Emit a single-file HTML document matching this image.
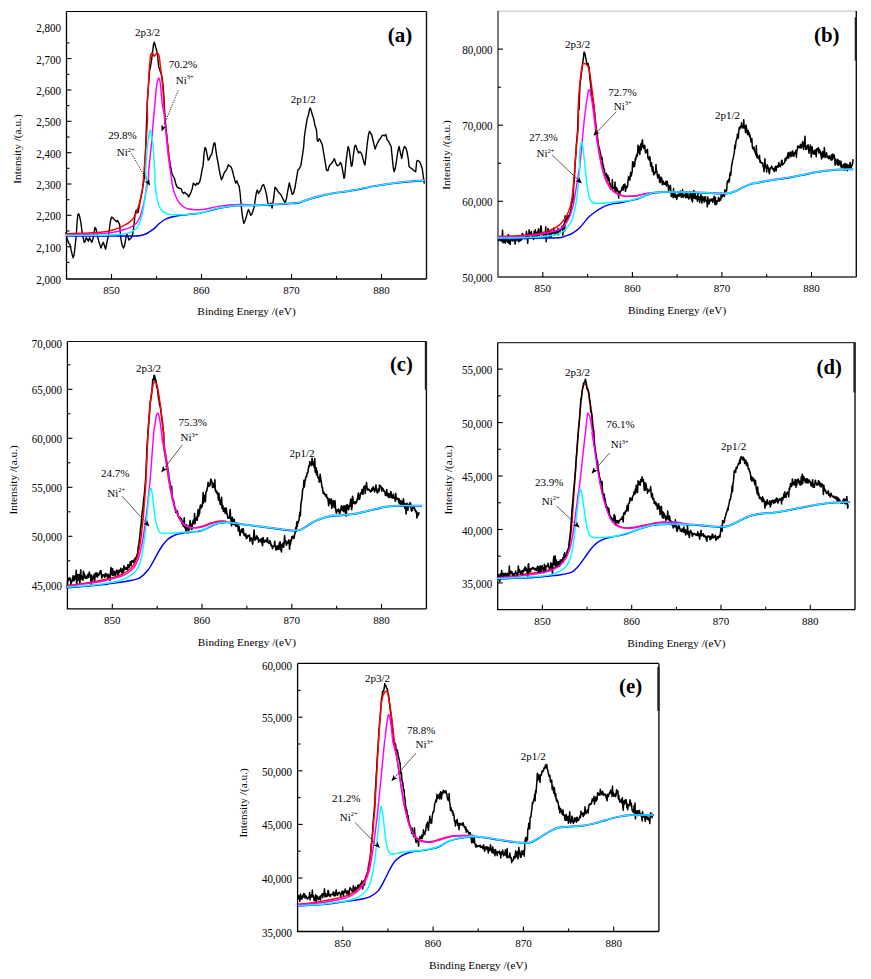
<!DOCTYPE html>
<html><head><meta charset="utf-8"><style>
html,body{margin:0;padding:0;background:#fff;}
svg{display:block;}
text{font-family:"Liberation Serif", serif;fill:#000;}
</style></head><body>
<svg width="871" height="979" viewBox="0 0 871 979">
<rect width="871" height="979" fill="#fff"/>
<path d="M66.5,11.5H426.5" stroke="#000" stroke-width="1.1" fill="none"/>
<path d="M426.5,11.5V279.0" stroke="#111" stroke-width="1.4" fill="none"/>
<path d="M66.5,11.5V279.0H426.5" stroke="#000" stroke-width="1.3" fill="none"/>
<path d="M111.5,279.0v-5" stroke="#000" stroke-width="1.1"/>
<text x="111.5" y="293.9" font-size="11" text-anchor="middle" font-weight="normal" >850</text>
<path d="M156.5,279.0v-3" stroke="#000" stroke-width="1.1"/>
<path d="M201.5,279.0v-5" stroke="#000" stroke-width="1.1"/>
<text x="201.5" y="293.9" font-size="11" text-anchor="middle" font-weight="normal" >860</text>
<path d="M246.5,279.0v-3" stroke="#000" stroke-width="1.1"/>
<path d="M291.5,279.0v-5" stroke="#000" stroke-width="1.1"/>
<text x="291.5" y="293.9" font-size="11" text-anchor="middle" font-weight="normal" >870</text>
<path d="M336.5,279.0v-3" stroke="#000" stroke-width="1.1"/>
<path d="M381.5,279.0v-5" stroke="#000" stroke-width="1.1"/>
<text x="381.5" y="293.9" font-size="11" text-anchor="middle" font-weight="normal" >880</text>
<text x="61.0" y="283.9" font-size="11.6" text-anchor="end" textLength="24.8" lengthAdjust="spacingAndGlyphs">2,000</text>
<path d="M66.5,262.4h3" stroke="#000" stroke-width="1.1"/>
<path d="M66.5,246.7h5" stroke="#000" stroke-width="1.1"/>
<text x="61.0" y="251.7" font-size="11.6" text-anchor="end" textLength="24.8" lengthAdjust="spacingAndGlyphs">2,100</text>
<path d="M66.5,231.0h3" stroke="#000" stroke-width="1.1"/>
<path d="M66.5,215.3h5" stroke="#000" stroke-width="1.1"/>
<text x="61.0" y="220.3" font-size="11.6" text-anchor="end" textLength="24.8" lengthAdjust="spacingAndGlyphs">2,200</text>
<path d="M66.5,199.7h3" stroke="#000" stroke-width="1.1"/>
<path d="M66.5,184.0h5" stroke="#000" stroke-width="1.1"/>
<text x="61.0" y="189.0" font-size="11.6" text-anchor="end" textLength="24.8" lengthAdjust="spacingAndGlyphs">2,300</text>
<path d="M66.5,168.3h3" stroke="#000" stroke-width="1.1"/>
<path d="M66.5,152.7h5" stroke="#000" stroke-width="1.1"/>
<text x="61.0" y="157.7" font-size="11.6" text-anchor="end" textLength="24.8" lengthAdjust="spacingAndGlyphs">2,400</text>
<path d="M66.5,137.0h3" stroke="#000" stroke-width="1.1"/>
<path d="M66.5,121.3h5" stroke="#000" stroke-width="1.1"/>
<text x="61.0" y="126.3" font-size="11.6" text-anchor="end" textLength="24.8" lengthAdjust="spacingAndGlyphs">2,500</text>
<path d="M66.5,105.6h3" stroke="#000" stroke-width="1.1"/>
<path d="M66.5,90.0h5" stroke="#000" stroke-width="1.1"/>
<text x="61.0" y="95.0" font-size="11.6" text-anchor="end" textLength="24.8" lengthAdjust="spacingAndGlyphs">2,600</text>
<path d="M66.5,74.3h3" stroke="#000" stroke-width="1.1"/>
<path d="M66.5,58.6h5" stroke="#000" stroke-width="1.1"/>
<text x="61.0" y="63.6" font-size="11.6" text-anchor="end" textLength="24.8" lengthAdjust="spacingAndGlyphs">2,700</text>
<path d="M66.5,42.9h3" stroke="#000" stroke-width="1.1"/>
<text x="61.0" y="32.2" font-size="11.6" text-anchor="end" textLength="24.8" lengthAdjust="spacingAndGlyphs">2,800</text>
<text x="246.5" y="315.3" font-size="11.3" text-anchor="middle" font-weight="normal" >Binding Energy /(eV)</text>
<text transform="translate(21.2,149.0) rotate(-90)" font-size="11.3" text-anchor="middle">Intensity /(a.u.)</text>
<text x="387.7" y="42.0" font-size="21.5" font-weight="bold" textLength="24.6" lengthAdjust="spacingAndGlyphs">(a)</text>
<path d="M498.0,11.1H856.3" stroke="#c8c8c8" stroke-width="1.1" fill="none"/>
<path d="M856.3,11.1V277.0" stroke="#111" stroke-width="1.4" fill="none"/>
<rect x="854.7" y="17.2" width="2.2" height="43.4" fill="#222"/>
<path d="M498.0,11.1V277.0H856.3" stroke="#333" stroke-width="1.3" fill="none"/>
<path d="M542.8,277.0v-5" stroke="#000" stroke-width="1.1"/>
<text x="542.8" y="292.2" font-size="11" text-anchor="middle" font-weight="normal" >850</text>
<path d="M587.6,277.0v-3" stroke="#000" stroke-width="1.1"/>
<path d="M632.4,277.0v-5" stroke="#000" stroke-width="1.1"/>
<text x="632.4" y="292.2" font-size="11" text-anchor="middle" font-weight="normal" >860</text>
<path d="M677.1,277.0v-3" stroke="#000" stroke-width="1.1"/>
<path d="M721.9,277.0v-5" stroke="#000" stroke-width="1.1"/>
<text x="721.9" y="292.2" font-size="11" text-anchor="middle" font-weight="normal" >870</text>
<path d="M766.7,277.0v-3" stroke="#000" stroke-width="1.1"/>
<path d="M811.5,277.0v-5" stroke="#000" stroke-width="1.1"/>
<text x="811.5" y="292.2" font-size="11" text-anchor="middle" font-weight="normal" >880</text>
<text x="492.5" y="282.4" font-size="11.6" text-anchor="end" textLength="30.2" lengthAdjust="spacingAndGlyphs">50,000</text>
<path d="M498.0,239.4h3" stroke="#000" stroke-width="1.1"/>
<path d="M498.0,201.3h5" stroke="#000" stroke-width="1.1"/>
<text x="492.5" y="206.3" font-size="11.6" text-anchor="end" textLength="30.2" lengthAdjust="spacingAndGlyphs">60,000</text>
<path d="M498.0,163.3h3" stroke="#000" stroke-width="1.1"/>
<path d="M498.0,125.2h5" stroke="#000" stroke-width="1.1"/>
<text x="492.5" y="130.2" font-size="11.6" text-anchor="end" textLength="30.2" lengthAdjust="spacingAndGlyphs">70,000</text>
<path d="M498.0,87.2h3" stroke="#000" stroke-width="1.1"/>
<path d="M498.0,49.1h5" stroke="#000" stroke-width="1.1"/>
<text x="492.5" y="54.1" font-size="11.6" text-anchor="end" textLength="30.2" lengthAdjust="spacingAndGlyphs">80,000</text>
<text x="677.1" y="313.7" font-size="11.3" text-anchor="middle" font-weight="normal" >Binding Energy /(eV)</text>
<text transform="translate(450.4,155.0) rotate(-90)" font-size="11.3" text-anchor="middle">Intensity /(a.u.)</text>
<text x="814.0" y="41.6" font-size="21.5" font-weight="bold" textLength="25.6" lengthAdjust="spacingAndGlyphs">(b)</text>
<path d="M67.4,341.5H426.4" stroke="#111" stroke-width="1.1" fill="none"/>
<path d="M426.4,341.5V608.8" stroke="#111" stroke-width="1.4" fill="none"/>
<rect x="424.8" y="341.5" width="2.2" height="48.2" fill="#222"/>
<path d="M67.4,341.5V608.8H426.4" stroke="#000" stroke-width="1.3" fill="none"/>
<path d="M112.3,608.8v-5" stroke="#000" stroke-width="1.1"/>
<text x="112.3" y="623.8" font-size="11" text-anchor="middle" font-weight="normal" >850</text>
<path d="M157.2,608.8v-3" stroke="#000" stroke-width="1.1"/>
<path d="M202.0,608.8v-5" stroke="#000" stroke-width="1.1"/>
<text x="202.0" y="623.8" font-size="11" text-anchor="middle" font-weight="normal" >860</text>
<path d="M246.9,608.8v-3" stroke="#000" stroke-width="1.1"/>
<path d="M291.8,608.8v-5" stroke="#000" stroke-width="1.1"/>
<text x="291.8" y="623.8" font-size="11" text-anchor="middle" font-weight="normal" >870</text>
<path d="M336.6,608.8v-3" stroke="#000" stroke-width="1.1"/>
<path d="M381.5,608.8v-5" stroke="#000" stroke-width="1.1"/>
<text x="381.5" y="623.8" font-size="11" text-anchor="middle" font-weight="normal" >880</text>
<path d="M67.4,585.3h5" stroke="#000" stroke-width="1.1"/>
<text x="61.9" y="590.3" font-size="11.6" text-anchor="end" textLength="30.2" lengthAdjust="spacingAndGlyphs">45,000</text>
<path d="M67.4,560.8h3" stroke="#000" stroke-width="1.1"/>
<path d="M67.4,536.3h5" stroke="#000" stroke-width="1.1"/>
<text x="61.9" y="541.3" font-size="11.6" text-anchor="end" textLength="30.2" lengthAdjust="spacingAndGlyphs">50,000</text>
<path d="M67.4,511.8h3" stroke="#000" stroke-width="1.1"/>
<path d="M67.4,487.3h5" stroke="#000" stroke-width="1.1"/>
<text x="61.9" y="492.3" font-size="11.6" text-anchor="end" textLength="30.2" lengthAdjust="spacingAndGlyphs">55,000</text>
<path d="M67.4,462.8h3" stroke="#000" stroke-width="1.1"/>
<path d="M67.4,438.3h5" stroke="#000" stroke-width="1.1"/>
<text x="61.9" y="443.3" font-size="11.6" text-anchor="end" textLength="30.2" lengthAdjust="spacingAndGlyphs">60,000</text>
<path d="M67.4,413.8h3" stroke="#000" stroke-width="1.1"/>
<path d="M67.4,389.3h5" stroke="#000" stroke-width="1.1"/>
<text x="61.9" y="394.3" font-size="11.6" text-anchor="end" textLength="30.2" lengthAdjust="spacingAndGlyphs">65,000</text>
<path d="M67.4,364.8h3" stroke="#000" stroke-width="1.1"/>
<text x="61.9" y="348.0" font-size="11.6" text-anchor="end" textLength="30.2" lengthAdjust="spacingAndGlyphs">70,000</text>
<text x="246.9" y="645.7" font-size="11.3" text-anchor="middle" font-weight="normal" >Binding Energy /(eV)</text>
<text transform="translate(16.6,479.8) rotate(-90)" font-size="11.3" text-anchor="middle">Intensity /(a.u.)</text>
<text x="390.0" y="370.5" font-size="21.5" font-weight="bold" textLength="22.9" lengthAdjust="spacingAndGlyphs">(c)</text>
<path d="M497.7,342.6H855.0" stroke="#333" stroke-width="1.1" fill="none"/>
<path d="M855.0,342.6V609.7" stroke="#111" stroke-width="1.4" fill="none"/>
<rect x="853.4" y="342.5" width="2.2" height="50.0" fill="#222"/>
<path d="M497.7,342.6V609.7H855.0" stroke="#000" stroke-width="1.3" fill="none"/>
<path d="M542.4,609.7v-5" stroke="#000" stroke-width="1.1"/>
<text x="542.4" y="625.3" font-size="11" text-anchor="middle" font-weight="normal" >850</text>
<path d="M587.0,609.7v-3" stroke="#000" stroke-width="1.1"/>
<path d="M631.7,609.7v-5" stroke="#000" stroke-width="1.1"/>
<text x="631.7" y="625.3" font-size="11" text-anchor="middle" font-weight="normal" >860</text>
<path d="M676.4,609.7v-3" stroke="#000" stroke-width="1.1"/>
<path d="M721.0,609.7v-5" stroke="#000" stroke-width="1.1"/>
<text x="721.0" y="625.3" font-size="11" text-anchor="middle" font-weight="normal" >870</text>
<path d="M765.7,609.7v-3" stroke="#000" stroke-width="1.1"/>
<path d="M810.3,609.7v-5" stroke="#000" stroke-width="1.1"/>
<text x="810.3" y="625.3" font-size="11" text-anchor="middle" font-weight="normal" >880</text>
<path d="M497.7,582.9h5" stroke="#000" stroke-width="1.1"/>
<text x="492.2" y="587.9" font-size="11.6" text-anchor="end" textLength="30.2" lengthAdjust="spacingAndGlyphs">35,000</text>
<path d="M497.7,556.2h3" stroke="#000" stroke-width="1.1"/>
<path d="M497.7,529.5h5" stroke="#000" stroke-width="1.1"/>
<text x="492.2" y="534.5" font-size="11.6" text-anchor="end" textLength="30.2" lengthAdjust="spacingAndGlyphs">40,000</text>
<path d="M497.7,502.7h3" stroke="#000" stroke-width="1.1"/>
<path d="M497.7,476.0h5" stroke="#000" stroke-width="1.1"/>
<text x="492.2" y="481.0" font-size="11.6" text-anchor="end" textLength="30.2" lengthAdjust="spacingAndGlyphs">45,000</text>
<path d="M497.7,449.3h3" stroke="#000" stroke-width="1.1"/>
<path d="M497.7,422.6h5" stroke="#000" stroke-width="1.1"/>
<text x="492.2" y="427.6" font-size="11.6" text-anchor="end" textLength="30.2" lengthAdjust="spacingAndGlyphs">50,000</text>
<path d="M497.7,395.8h3" stroke="#000" stroke-width="1.1"/>
<path d="M497.7,369.1h5" stroke="#000" stroke-width="1.1"/>
<text x="492.2" y="374.1" font-size="11.6" text-anchor="end" textLength="30.2" lengthAdjust="spacingAndGlyphs">55,000</text>
<text x="676.4" y="647.2" font-size="11.3" text-anchor="middle" font-weight="normal" >Binding Energy /(eV)</text>
<text transform="translate(451.6,479.8) rotate(-90)" font-size="11.3" text-anchor="middle">Intensity /(a.u.)</text>
<text x="816.6" y="374.0" font-size="21.5" font-weight="bold" textLength="25.3" lengthAdjust="spacingAndGlyphs">(d)</text>
<path d="M297.6,663.4H658.9" stroke="#000" stroke-width="1.1" fill="none"/>
<path d="M658.9,663.4V931.5" stroke="#111" stroke-width="1.4" fill="none"/>
<rect x="657.3" y="667.0" width="2.2" height="43.8" fill="#222"/>
<path d="M297.6,663.4V931.5H658.9" stroke="#000" stroke-width="1.3" fill="none"/>
<path d="M342.8,931.5v-5" stroke="#000" stroke-width="1.1"/>
<text x="342.8" y="947.3" font-size="11" text-anchor="middle" font-weight="normal" >850</text>
<path d="M387.9,931.5v-3" stroke="#000" stroke-width="1.1"/>
<path d="M433.1,931.5v-5" stroke="#000" stroke-width="1.1"/>
<text x="433.1" y="947.3" font-size="11" text-anchor="middle" font-weight="normal" >860</text>
<path d="M478.2,931.5v-3" stroke="#000" stroke-width="1.1"/>
<path d="M523.4,931.5v-5" stroke="#000" stroke-width="1.1"/>
<text x="523.4" y="947.3" font-size="11" text-anchor="middle" font-weight="normal" >870</text>
<path d="M568.6,931.5v-3" stroke="#000" stroke-width="1.1"/>
<path d="M613.7,931.5v-5" stroke="#000" stroke-width="1.1"/>
<text x="613.7" y="947.3" font-size="11" text-anchor="middle" font-weight="normal" >880</text>
<text x="292.1" y="936.6" font-size="11.6" text-anchor="end" textLength="30.2" lengthAdjust="spacingAndGlyphs">35,000</text>
<path d="M297.6,904.8h3" stroke="#000" stroke-width="1.1"/>
<path d="M297.6,878.0h5" stroke="#000" stroke-width="1.1"/>
<text x="292.1" y="883.0" font-size="11.6" text-anchor="end" textLength="30.2" lengthAdjust="spacingAndGlyphs">40,000</text>
<path d="M297.6,851.2h3" stroke="#000" stroke-width="1.1"/>
<path d="M297.6,824.4h5" stroke="#000" stroke-width="1.1"/>
<text x="292.1" y="829.4" font-size="11.6" text-anchor="end" textLength="30.2" lengthAdjust="spacingAndGlyphs">45,000</text>
<path d="M297.6,797.6h3" stroke="#000" stroke-width="1.1"/>
<path d="M297.6,770.8h5" stroke="#000" stroke-width="1.1"/>
<text x="292.1" y="775.8" font-size="11.6" text-anchor="end" textLength="30.2" lengthAdjust="spacingAndGlyphs">50,000</text>
<path d="M297.6,744.0h3" stroke="#000" stroke-width="1.1"/>
<path d="M297.6,717.2h5" stroke="#000" stroke-width="1.1"/>
<text x="292.1" y="722.2" font-size="11.6" text-anchor="end" textLength="30.2" lengthAdjust="spacingAndGlyphs">55,000</text>
<path d="M297.6,690.4h3" stroke="#000" stroke-width="1.1"/>
<text x="292.1" y="669.5" font-size="11.6" text-anchor="end" textLength="30.2" lengthAdjust="spacingAndGlyphs">60,000</text>
<text x="478.2" y="968.7" font-size="11.3" text-anchor="middle" font-weight="normal" >Binding Energy /(eV)</text>
<text transform="translate(247.2,802.9) rotate(-90)" font-size="11.3" text-anchor="middle">Intensity /(a.u.)</text>
<text x="619.1" y="692.5" font-size="21.5" font-weight="bold" textLength="23.2" lengthAdjust="spacingAndGlyphs">(e)</text>
<path d="M66.00,232.00L67.15,238.89L68.87,243.48L70.02,244.63L71.17,250.37L72.31,254.96L73.12,257.83L74.04,254.96L75.18,245.77L76.33,234.29L77.14,221.66L77.83,214.78L78.63,213.63L79.78,217.07L80.93,222.81L82.07,232.00L83.22,237.74L84.14,242.33L85.29,241.18L86.09,237.74L87.24,238.89L88.39,241.18L89.54,237.74L90.68,240.03L91.83,242.33L92.98,238.89L94.13,232.00L94.93,227.41L95.85,228.55L96.77,232.00L97.57,236.59L98.72,241.18L99.87,244.63L101.02,248.07L102.17,244.63L103.31,242.33L104.46,245.77L105.61,249.22L106.76,243.48L107.91,237.74L109.05,232.00L109.86,225.11L110.78,219.37L111.69,217.07L113.07,218.22L114.22,219.37L115.37,220.52L116.52,221.66L117.66,220.52L118.81,222.81L119.73,225.11L120.19,232.00L120.88,238.89L122.03,244.63L123.41,248.07L124.55,245.77L125.70,238.89L126.85,234.29L128.00,236.59L128.92,240.03L130.06,238.89L131.44,237.74L132.59,234.29L133.74,227.41L134.66,218.22L135.46,212.48L136.26,210.18L137.18,212.48L138.10,212.48L138.90,207.89L140.05,202.15L141.20,196.41L142.35,189.52L143.50,182.63L144.65,175.74L147.23,103.54L148.04,91.29L148.86,80.66L149.51,70.86L150.33,67.59L151.15,62.69L151.97,56.97L152.78,50.43L153.60,43.89L154.25,42.26L155.07,44.71L155.89,47.98L156.71,50.43L157.52,54.51L158.09,61.05L158.67,66.77L159.73,70.04L160.96,73.31L162.18,77.40L163.00,85.57L163.82,95.37L164.99,118.39L166.37,132.18L167.75,145.97L169.13,159.75L170.51,166.19L171.88,173.54L173.26,176.30L174.64,179.06L176.02,184.58L177.40,187.33L179.24,188.25L181.24,188.89L182.39,192.33L183.54,193.48L184.68,192.33L185.83,193.48L187.55,194.63L188.70,196.92L189.85,194.63L191.00,192.33L192.15,188.89L193.30,183.15L194.44,184.29L195.59,185.44L196.74,183.15L197.89,184.29L199.61,182.00L200.76,177.41L201.91,170.52L203.05,165.92L204.20,152.15L205.01,147.55L205.92,148.70L207.07,154.44L208.22,160.18L209.37,159.04L210.52,155.59L211.66,154.44L212.81,148.70L213.96,142.96L214.88,142.96L215.68,148.70L216.83,156.74L217.98,162.48L219.13,169.37L220.28,175.11L221.42,179.70L222.57,177.41L223.72,173.96L224.87,171.66L226.02,170.52L227.16,168.22L228.31,164.78L229.46,165.92L231.18,167.07L232.33,170.52L233.48,175.11L234.63,179.70L235.77,183.15L236.92,180.85L238.07,184.29L239.22,186.59L240.14,193.48L240.94,202.66L241.75,210.70L242.66,217.59L243.81,223.33L244.96,221.03L246.11,217.59L247.26,213.00L248.40,209.55L249.55,211.85L250.70,215.29L251.85,214.14L253.00,210.70L254.14,207.26L255.29,199.22L256.44,192.33L257.36,190.03L258.51,193.48L260.72,190.10L262.15,185.81L263.58,184.38L265.01,188.67L266.44,194.39L267.87,202.97L269.30,205.83L270.73,202.97L272.16,207.98L273.59,198.68L275.02,187.24L276.45,188.67L277.88,191.53L279.31,192.96L280.74,194.39L282.17,197.25L283.60,200.11L285.03,202.97L286.46,198.68L287.89,190.10L289.32,182.95L290.75,188.67L292.18,194.39L293.61,192.96L295.04,187.24L296.47,178.66L297.90,170.08L299.33,168.65L300.76,165.79L302.19,157.21L303.62,147.20L304.34,137.19L305.77,127.18L307.20,118.60L308.63,114.31L309.34,110.02L310.06,107.88L311.06,110.02L312.20,114.31L313.63,118.60L315.06,125.75L316.49,130.04L317.21,140.05L317.92,141.48L319.35,138.62L320.78,141.48L322.21,144.34L323.64,152.92L325.07,161.50L326.50,170.08L327.93,170.80L329.36,165.79L330.79,164.36L332.94,161.50L334.37,158.64L335.80,162.93L337.23,165.79L338.66,165.08L340.09,163.65L340.00,162.41L341.33,163.74L342.66,170.38L343.98,178.35L344.65,177.02L345.98,162.41L347.30,151.79L348.23,146.48L349.30,150.46L350.36,158.43L351.29,166.39L352.22,165.07L353.28,155.77L354.61,146.48L355.67,145.15L357.00,149.13L358.59,153.12L359.92,151.79L361.25,153.12L362.57,157.10L363.90,162.41L364.96,165.07L365.89,157.10L367.22,143.82L368.55,134.53L369.48,131.21L370.54,133.20L371.60,134.53L372.53,138.51L373.86,143.82L375.19,149.13L376.52,145.15L377.84,142.49L379.17,139.84L380.50,138.51L381.83,135.85L383.16,135.19L384.48,135.85L385.81,134.53L387.14,139.84L388.47,141.16L389.80,143.82L391.12,146.48L392.05,155.77L393.12,166.39L394.04,171.71L395.11,169.05L396.44,161.08L397.76,151.79L399.09,146.48L400.42,153.12L401.75,158.43L403.07,150.46L404.40,146.48L405.73,147.80L407.06,151.79L408.39,159.75L409.05,166.39L410.38,167.72L412.37,169.05L414.36,171.04L415.69,171.71L416.75,161.08L418.08,160.42L419.67,161.75L421.00,165.07L422.33,169.05L423.39,177.02L424.32,183.66" stroke="#000" stroke-width="1.4" fill="none" stroke-linejoin="round"/>
<path d="M66.00,233.72C67.91,233.66 73.65,233.51 77.48,233.38C81.31,233.24 85.14,233.11 88.96,232.92C92.79,232.72 97.00,232.57 100.44,232.23C103.89,231.88 107.14,231.37 109.63,230.85C112.12,230.33 113.46,229.80 115.37,229.13C117.28,228.46 119.20,227.69 121.11,226.83C123.02,225.97 125.13,225.01 126.85,223.96C128.57,222.91 130.10,221.86 131.44,220.52C132.78,219.18 133.93,217.65 134.89,215.92C135.84,214.20 136.42,212.29 137.18,210.18C137.95,208.08 138.81,205.78 139.48,203.30C140.15,200.81 140.67,197.94 141.20,195.26C141.74,192.58 141.96,194.76 142.69,187.22C143.43,179.68 144.95,158.70 145.60,150.00C146.25,141.30 146.28,140.33 146.60,135.00C146.92,129.67 147.40,123.24 147.50,118.00C147.60,112.76 147.16,107.32 147.23,103.54C147.29,99.77 147.64,99.46 147.88,95.37C148.13,91.29 148.43,83.80 148.70,79.03C148.97,74.26 149.24,70.45 149.51,66.77C149.79,63.09 150.06,59.15 150.33,56.97C150.60,54.79 150.81,54.31 151.15,53.70C151.49,53.08 151.97,53.02 152.37,53.29C152.78,53.56 153.26,54.86 153.60,55.33C153.94,55.81 154.08,56.29 154.42,56.15C154.76,56.01 155.23,54.99 155.64,54.51C156.05,54.04 156.46,53.43 156.87,53.29C157.28,53.15 157.69,53.08 158.09,53.70C158.50,54.31 158.98,55.20 159.32,56.97C159.66,58.74 159.87,62.01 160.14,64.32C160.41,66.64 160.68,68.68 160.96,70.86C161.23,73.04 161.50,74.94 161.77,77.40C162.04,79.85 162.32,82.57 162.59,85.57C162.86,88.56 163.16,91.97 163.41,95.37C163.65,98.78 163.87,102.93 164.06,106.00C164.25,109.07 164.22,110.19 164.53,113.79C164.84,117.39 165.45,122.98 165.91,127.58C166.37,132.18 166.78,136.77 167.29,141.37C167.79,145.97 168.41,151.02 168.94,155.16C169.48,159.30 170.25,164.35 170.51,166.19" stroke="#f00" stroke-width="1.45" fill="none"/>
<path d="M66.00,234.87C69.83,234.77 82.26,234.58 88.96,234.29C95.66,234.01 101.40,233.62 106.18,233.15C110.97,232.67 114.41,232.09 117.66,231.42C120.92,230.75 123.41,229.89 125.70,229.13C128.00,228.36 129.72,227.79 131.44,226.83C133.16,225.87 134.69,224.82 136.03,223.39C137.37,221.95 138.52,220.23 139.48,218.22C140.44,216.21 141.01,214.01 141.77,211.33C142.54,208.65 143.40,205.21 144.07,202.15C144.74,199.09 145.26,196.02 145.79,192.96C146.33,189.90 146.81,186.65 147.29,183.78C147.76,180.91 148.47,177.45 148.66,175.74C148.86,174.04 148.25,176.21 148.44,173.54C148.64,170.88 149.28,165.12 149.82,159.75C150.36,154.39 151.05,148.26 151.66,141.37C152.27,134.47 152.89,125.28 153.50,118.39C154.11,111.49 155.05,103.15 155.34,100.00C155.63,96.85 155.05,101.59 155.23,99.46C155.42,97.33 156.05,90.33 156.46,87.20C156.87,84.07 157.35,82.16 157.69,80.66C158.03,79.17 158.23,78.48 158.50,78.21C158.78,77.94 159.02,78.21 159.32,79.03C159.62,79.85 160.00,80.94 160.30,83.12C160.60,85.29 160.81,88.70 161.12,92.10C161.43,95.51 161.69,99.93 162.18,103.54C162.67,107.16 163.53,109.78 164.07,113.79C164.62,117.80 164.99,122.98 165.45,127.58C165.91,132.18 166.37,136.77 166.83,141.37C167.29,145.97 167.67,150.56 168.21,155.16C168.74,159.75 169.43,164.66 170.05,168.95C170.66,173.24 171.65,179.11 171.88,180.90C172.12,182.69 171.26,178.37 171.48,179.70C171.70,181.03 172.53,186.21 173.20,188.89C173.87,191.57 174.64,193.67 175.50,195.77C176.36,197.88 177.32,199.89 178.37,201.52C179.42,203.14 180.47,204.39 181.81,205.53C183.15,206.68 184.68,207.73 186.41,208.40C188.13,209.07 190.04,209.32 192.15,209.55C194.25,209.78 196.74,209.88 199.04,209.78C201.33,209.69 203.63,209.36 205.92,208.98C208.22,208.60 210.52,207.96 212.81,207.49C215.11,207.01 217.41,206.49 219.70,206.11C222.00,205.73 224.29,205.42 226.59,205.19C228.89,204.96 231.18,204.86 233.48,204.73C235.77,204.60 238.65,204.44 240.37,204.39C242.09,204.33 241.21,204.28 243.81,204.39C246.42,204.50 251.52,205.06 256.00,205.05C260.48,205.04 266.20,204.58 270.70,204.35C275.20,204.12 279.57,203.87 283.00,203.65C286.43,203.43 288.53,203.30 291.30,203.05C294.07,202.80 296.83,202.78 299.60,202.15C302.37,201.52 304.80,200.25 307.90,199.25C311.00,198.25 314.07,197.18 318.20,196.15C322.33,195.12 326.85,194.08 332.70,193.05C338.55,192.02 346.42,191.15 353.30,189.95C360.18,188.75 367.10,187.05 374.00,185.85C380.90,184.65 387.82,183.62 394.70,182.75C401.58,181.88 410.33,181.07 415.30,180.65C420.27,180.23 422.97,180.32 424.50,180.25" stroke="#f0f" stroke-width="1.45" fill="none"/>
<path d="M66.00,236.02C71.74,236.02 90.88,236.02 100.44,236.02C110.01,236.02 117.66,236.02 123.41,236.02C129.15,236.02 132.02,236.11 134.89,236.02C137.76,235.92 138.71,235.82 140.63,235.44C142.54,235.06 144.65,234.49 146.37,233.72C148.09,232.95 149.43,231.90 150.96,230.85C152.49,229.80 154.33,228.48 155.55,227.41C156.78,226.33 156.48,225.87 158.30,224.40C160.12,222.93 163.30,220.03 166.50,218.60C169.70,217.17 173.58,216.52 177.50,215.80C181.42,215.08 186.25,214.73 190.00,214.30C193.75,213.87 196.96,213.75 200.00,213.20C203.04,212.65 205.32,211.75 208.22,211.00C211.12,210.25 214.34,209.37 217.41,208.70C220.47,208.03 223.53,207.46 226.59,206.98C229.65,206.50 232.71,206.08 235.77,205.83C238.84,205.59 241.59,205.53 244.96,205.49C248.33,205.45 251.71,205.70 256.00,205.60C260.29,205.50 266.20,205.13 270.70,204.90C275.20,204.67 279.57,204.42 283.00,204.20C286.43,203.98 288.53,203.85 291.30,203.60C294.07,203.35 296.83,203.33 299.60,202.70C302.37,202.07 304.80,200.80 307.90,199.80C311.00,198.80 314.07,197.73 318.20,196.70C322.33,195.67 326.85,194.63 332.70,193.60C338.55,192.57 346.42,191.70 353.30,190.50C360.18,189.30 367.10,187.60 374.00,186.40C380.90,185.20 387.82,184.17 394.70,183.30C401.58,182.43 410.33,181.62 415.30,181.20C420.27,180.78 422.97,180.87 424.50,180.80" stroke="#00f" stroke-width="1.45" fill="none"/>
<path d="M66.00,235.44C71.74,235.40 91.83,235.37 100.44,235.21C109.05,235.06 113.26,234.83 117.66,234.52C122.07,234.22 124.36,233.89 126.85,233.38C129.34,232.86 130.87,232.42 132.59,231.42C134.31,230.43 135.94,229.03 137.18,227.41C138.43,225.78 139.19,223.96 140.05,221.66C140.91,219.37 141.68,216.50 142.35,213.63C143.02,210.76 143.59,207.31 144.07,204.44C144.55,201.57 144.87,199.28 145.22,196.41C145.56,193.54 145.85,190.28 146.14,187.22C146.42,184.16 147.02,180.32 146.94,178.04C146.87,175.76 145.74,177.36 145.68,173.54C145.63,169.73 146.22,160.52 146.60,155.16C146.99,149.80 147.57,144.89 147.98,141.37C148.40,137.84 148.70,135.85 149.09,134.01C149.47,132.18 149.85,129.88 150.28,130.34C150.71,130.80 151.20,134.17 151.66,136.77C152.12,139.38 152.66,142.13 153.04,145.97C153.42,149.80 153.65,155.16 153.96,159.75C154.26,164.35 154.71,169.92 154.88,173.54C155.05,177.17 154.77,178.24 154.98,181.48C155.19,184.72 155.65,189.52 156.13,192.96C156.60,196.41 157.18,199.66 157.85,202.15C158.52,204.63 159.28,206.26 160.14,207.89C161.01,209.51 162.46,211.25 163.01,211.91C163.56,212.57 162.61,211.48 163.44,211.85C164.28,212.22 166.31,213.67 168.04,214.14C169.76,214.62 171.29,214.62 173.78,214.72C176.26,214.81 179.90,214.81 182.96,214.72C186.02,214.62 189.28,214.43 192.15,214.14C195.02,213.86 197.50,213.57 200.18,213.00C202.86,212.42 205.35,211.47 208.22,210.70C211.09,209.93 214.34,209.07 217.41,208.40C220.47,207.73 223.53,207.16 226.59,206.68C229.65,206.20 232.71,205.78 235.77,205.53C238.84,205.29 241.59,205.23 244.96,205.19C248.33,205.15 251.71,205.40 256.00,205.30C260.29,205.20 266.20,204.83 270.70,204.60C275.20,204.37 279.57,204.12 283.00,203.90C286.43,203.68 288.53,203.55 291.30,203.30C294.07,203.05 296.83,203.03 299.60,202.40C302.37,201.77 304.80,200.50 307.90,199.50C311.00,198.50 314.07,197.43 318.20,196.40C322.33,195.37 326.85,194.33 332.70,193.30C338.55,192.27 346.42,191.40 353.30,190.20C360.18,189.00 367.10,187.30 374.00,186.10C380.90,184.90 387.82,183.87 394.70,183.00C401.58,182.13 410.33,181.32 415.30,180.90C420.27,180.48 422.97,180.57 424.50,180.50" stroke="#0ff" stroke-width="1.45" fill="none"/>
<text x="135.0" y="36.0" font-size="11" text-anchor="start" font-weight="normal" >2p3/2</text>
<text x="168.7" y="67.8" font-size="11" text-anchor="start" font-weight="normal" >70.2%</text>
<text x="108.2" y="139.3" font-size="11" text-anchor="start" font-weight="normal" >29.8%</text>
<text x="290.8" y="102.9" font-size="11" text-anchor="start" font-weight="normal" >2p1/2</text>
<text x="175.8" y="83.7" font-size="11">Ni<tspan font-size="6.5" dy="-4.5">3+</tspan></text>
<text x="116.8" y="156.1" font-size="11">Ni<tspan font-size="6.5" dy="-4.5">2+</tspan></text>
<path d="M178.1,90.5L163.9,125.5" stroke="#000" stroke-width="0.9" stroke-dasharray="1.2 1.3" fill="none"/>
<path d="M161.5,131.5L161.5,124.5L163.4,126.9L166.3,126.5Z" fill="#000"/>
<path d="M131.5,153.6L146.8,180.2" stroke="#000" stroke-width="0.9" stroke-dasharray="1.2 1.3" fill="none"/>
<path d="M150.1,185.8L144.6,181.5L147.6,181.5L149.1,178.9Z" fill="#000"/>
<path d="M498.50,241.32L498.95,237.06L499.40,240.02L499.85,239.62L500.30,239.42L500.75,240.42L501.20,241.11L501.65,241.04L502.10,238.57L502.55,230.33L503.00,242.67L503.45,242.30L503.90,240.20L504.35,239.51L504.80,237.23L505.25,243.29L505.70,237.13L506.15,236.95L506.60,240.62L507.05,241.25L507.50,242.27L507.95,235.42L508.40,234.45L508.85,243.46L509.30,240.35L509.75,240.01L510.20,244.43L510.65,239.37L511.10,239.95L511.55,238.10L512.00,238.93L512.45,240.87L512.90,240.42L513.35,237.71L513.80,239.65L514.25,241.05L514.70,239.56L515.15,244.10L515.60,236.41L516.05,238.69L516.50,240.32L516.95,239.80L517.40,237.90L517.85,235.54L518.30,241.22L518.75,241.76L519.20,239.86L519.65,237.85L520.10,240.72L520.55,238.86L521.00,240.28L521.45,238.59L521.90,239.38L522.35,233.57L522.80,233.83L523.25,236.57L523.70,237.40L524.15,237.52L524.60,238.19L525.05,238.88L525.50,236.08L525.95,237.42L526.40,231.60L526.85,234.79L527.30,239.02L527.75,243.32L528.20,233.97L528.65,237.28L529.10,229.86L529.55,234.83L530.00,235.87L530.45,233.04L530.90,233.02L531.35,231.48L531.80,235.84L532.25,237.35L532.70,237.38L533.15,235.09L533.60,239.43L534.05,231.16L534.50,235.19L534.95,236.69L535.40,229.71L535.85,233.78L536.30,232.61L536.75,236.93L537.20,232.29L537.65,235.65L538.10,231.24L538.55,228.72L539.00,233.25L539.45,235.75L539.90,232.89L540.35,231.56L540.80,225.83L541.25,227.04L541.70,234.66L542.15,233.10L542.60,234.63L543.05,232.37L543.50,234.67L543.95,235.67L544.40,233.39L544.85,234.42L545.30,234.61L545.75,226.77L546.20,241.77L546.65,234.78L547.10,231.83L547.55,233.54L548.00,228.57L548.45,233.14L548.90,233.52L549.35,237.68L549.80,230.88L550.25,235.01L550.70,236.30L551.15,237.25L551.60,231.09L552.05,232.68L552.50,233.19L552.95,232.04L553.40,230.93L553.85,228.08L554.30,235.05L554.75,233.01L555.20,234.53L555.65,231.98L556.10,231.21L556.55,233.31L557.00,234.41L557.45,233.44L557.90,228.33L558.35,234.87L558.80,232.21L559.25,230.76L559.70,230.56L560.15,230.94L560.60,229.75L561.05,228.50L561.50,228.97L561.95,226.14L562.40,227.46L562.85,235.15L563.30,225.66L563.75,224.94L564.20,223.35L564.65,231.04L565.10,215.86L565.55,218.65L566.00,221.18L566.45,218.72L566.90,215.65L567.35,218.48L567.80,219.08L568.25,216.44L568.70,215.63L569.15,216.48L569.60,215.48L570.05,213.15L570.50,212.22L570.95,209.79L571.40,204.68L571.85,202.41L572.30,198.58L572.75,202.55L573.20,194.89L573.65,186.57L574.10,181.84L574.55,175.40L575.00,165.60L575.45,159.30L575.90,154.06L576.35,144.95L576.80,139.26L577.25,134.72L577.70,129.62L578.15,114.99L578.60,106.41L579.05,109.85L579.50,95.86L579.95,85.41L580.40,80.97L580.85,78.65L581.30,73.17L581.75,71.52L582.20,66.75L582.65,63.20L583.10,59.99L583.55,56.89L584.00,52.24L584.45,52.20L584.90,53.59L585.35,55.39L585.80,58.62L586.25,59.74L586.70,64.17L587.15,64.91L587.60,64.18L588.05,63.33L588.50,65.92L588.95,67.20L589.40,71.25L589.85,78.14L590.30,81.57L590.75,84.66L591.20,89.63L591.65,97.05L592.10,98.19L592.55,99.46L593.00,101.64L593.45,104.69L593.90,107.85L594.35,112.34L594.80,114.71L595.25,119.34L595.70,123.66L596.15,126.60L596.60,130.47L597.05,132.47L597.50,137.82L597.95,140.32L598.40,144.45L598.85,146.73L599.30,147.83L599.75,150.42L600.20,151.88L600.65,154.11L601.10,158.00L601.55,159.36L602.00,157.22L602.45,161.51L602.90,165.06L603.35,165.34L603.80,168.83L604.25,168.96L604.70,172.41L605.15,174.30L605.60,174.26L606.05,177.37L606.50,173.49L606.95,177.00L607.40,178.95L607.85,175.38L608.30,180.35L608.75,177.43L609.20,179.39L609.65,186.19L610.10,183.19L610.55,188.95L611.00,188.95L611.45,186.41L611.90,188.72L612.35,179.41L612.80,187.99L613.25,188.10L613.70,188.15L614.15,187.32L614.60,190.18L615.05,182.01L615.50,192.68L615.95,189.11L616.40,187.50L616.85,190.89L617.30,188.89L617.75,191.15L618.20,191.50L618.65,198.12L619.10,191.24L619.55,194.30L620.00,193.03L620.45,191.61L620.90,190.89L621.35,190.69L621.80,187.64L622.25,187.85L622.70,186.24L623.15,190.16L623.60,184.75L624.05,187.50L624.50,186.52L624.95,184.09L625.40,191.35L625.85,189.81L626.30,186.17L626.75,187.73L627.20,187.26L627.65,185.50L628.10,179.78L628.55,176.81L629.00,177.72L629.45,180.07L629.90,180.05L630.35,174.83L630.80,172.21L631.25,176.11L631.70,173.87L632.15,171.89L632.60,161.63L633.05,166.31L633.50,166.60L633.95,162.13L634.40,166.51L634.85,164.32L635.30,158.21L635.75,159.88L636.20,156.65L636.65,154.37L637.10,156.43L637.55,154.76L638.00,145.13L638.45,152.21L638.90,146.39L639.35,150.46L639.80,154.49L640.25,148.55L640.70,144.11L641.15,149.89L641.60,146.54L642.05,141.01L642.50,139.83L642.95,146.99L643.40,145.29L643.85,148.60L644.30,146.29L644.75,145.38L645.20,150.77L645.65,153.09L646.10,152.08L646.55,150.35L647.00,150.17L647.45,149.39L647.90,157.70L648.35,158.68L648.80,158.23L649.25,160.06L649.70,156.38L650.15,158.90L650.60,166.02L651.05,166.50L651.50,162.86L651.95,168.55L652.40,171.37L652.85,166.47L653.30,171.61L653.75,174.85L654.20,172.97L654.65,174.01L655.10,171.58L655.55,172.19L656.00,164.55L656.45,172.00L656.90,171.05L657.35,175.83L657.80,178.04L658.25,174.40L658.70,176.30L659.15,174.87L659.60,182.05L660.05,182.66L660.50,180.66L660.95,176.90L661.40,181.38L661.85,178.59L662.30,184.32L662.75,184.65L663.20,181.01L663.65,183.64L664.10,182.61L664.55,184.19L665.00,183.84L665.45,183.37L665.90,181.22L666.35,186.03L666.80,185.23L667.25,181.19L667.70,185.54L668.15,184.77L668.60,190.69L669.05,189.59L669.50,187.64L669.95,186.16L670.40,185.25L670.85,190.40L671.30,196.38L671.75,192.02L672.20,195.28L672.65,192.28L673.10,197.80L673.55,188.56L674.00,196.54L674.45,194.35L674.90,197.16L675.35,193.97L675.80,194.38L676.25,196.37L676.70,199.45L677.15,197.50L677.60,195.22L678.05,194.47L678.50,194.08L678.95,196.34L679.40,195.57L679.85,194.93L680.30,191.07L680.75,194.43L681.20,197.09L681.65,197.34L682.10,195.23L682.55,189.49L683.00,195.71L683.45,197.26L683.90,196.23L684.35,195.01L684.80,194.65L685.25,194.15L685.70,197.84L686.15,191.65L686.60,194.77L687.05,197.34L687.50,194.07L687.95,193.81L688.40,198.38L688.85,199.05L689.30,197.81L689.75,197.50L690.20,192.00L690.65,196.90L691.10,197.27L691.55,200.01L692.00,193.65L692.45,201.92L692.90,195.57L693.35,195.62L693.80,190.58L694.25,198.27L694.70,195.68L695.15,192.16L695.60,198.83L696.05,196.93L696.50,198.89L696.95,195.92L697.40,201.17L697.85,193.28L698.30,199.51L698.75,198.74L699.20,196.86L699.65,202.58L700.10,197.11L700.55,198.10L701.00,194.43L701.45,199.79L701.90,203.03L702.35,197.58L702.80,196.49L703.25,199.91L703.70,198.91L704.15,202.14L704.60,196.96L705.05,197.27L705.50,196.85L705.95,201.34L706.40,201.08L706.85,201.29L707.30,206.85L707.75,196.97L708.20,199.74L708.65,201.20L709.10,204.04L709.55,200.67L710.00,199.25L710.45,201.12L710.90,200.44L711.35,199.13L711.80,199.00L712.25,201.12L712.70,202.38L713.15,198.55L713.60,200.28L714.05,196.32L714.50,200.66L714.95,204.40L715.40,197.20L715.85,204.73L716.30,201.64L716.75,203.69L717.20,200.63L717.65,201.25L718.10,200.99L718.55,197.20L719.00,199.69L719.45,201.16L719.90,198.97L720.35,198.36L720.80,199.95L721.25,193.01L721.70,197.52L722.15,196.65L722.60,195.56L723.05,196.02L723.50,193.97L723.95,193.72L724.40,196.57L724.85,189.83L725.30,190.32L725.75,190.85L726.20,191.04L726.65,190.92L727.10,182.76L727.55,180.86L728.00,182.75L728.45,180.97L728.90,178.96L729.35,181.59L729.80,174.06L730.25,172.63L730.70,175.58L731.15,170.82L731.60,165.53L732.05,164.06L732.50,160.87L732.95,159.12L733.40,157.48L733.85,154.46L734.30,153.30L734.75,145.35L735.20,148.71L735.65,144.77L736.10,140.41L736.55,140.08L737.00,138.23L737.45,134.00L737.90,135.20L738.35,137.90L738.80,130.59L739.25,127.43L739.70,129.04L740.15,126.49L740.60,126.76L741.05,127.81L741.50,122.79L741.95,126.46L742.40,125.90L742.85,128.05L743.30,127.32L743.75,119.68L744.20,128.04L744.65,126.00L745.10,128.03L745.55,132.70L746.00,124.92L746.45,127.98L746.90,129.85L747.35,133.42L747.80,134.64L748.25,130.62L748.70,134.59L749.15,132.64L749.60,136.73L750.05,134.89L750.50,138.60L750.95,141.94L751.40,140.31L751.85,138.42L752.30,146.60L752.75,148.31L753.20,147.69L753.65,149.66L754.10,146.98L754.55,151.49L755.00,151.74L755.45,152.89L755.90,155.06L756.35,145.47L756.80,157.33L757.25,154.34L757.70,158.01L758.15,156.87L758.60,158.31L759.05,159.04L759.50,155.35L759.95,162.22L760.40,160.51L760.85,162.88L761.30,162.34L761.75,163.08L762.20,163.66L762.65,162.66L763.10,166.82L763.55,166.64L764.00,171.77L764.45,166.86L764.90,158.74L765.35,166.18L765.80,167.51L766.25,167.13L766.70,171.91L767.15,164.65L767.60,165.73L768.05,168.34L768.50,167.81L768.95,171.57L769.40,173.76L769.85,169.85L770.30,168.34L770.75,167.59L771.20,167.23L771.65,166.03L772.10,168.35L772.55,169.23L773.00,168.22L773.45,170.20L773.90,168.91L774.35,171.63L774.80,169.95L775.25,166.63L775.70,166.34L776.15,170.97L776.60,167.13L777.05,166.12L777.50,167.03L777.95,165.36L778.40,167.00L778.85,162.58L779.30,164.90L779.75,165.62L780.20,166.77L780.65,165.30L781.10,164.04L781.55,160.46L782.00,160.17L782.45,165.14L782.90,164.32L783.35,163.55L783.80,163.27L784.25,163.25L784.70,162.37L785.15,158.30L785.60,160.13L786.05,160.21L786.50,157.36L786.95,158.76L787.40,156.20L787.85,154.01L788.30,152.54L788.75,158.08L789.20,155.51L789.65,155.06L790.10,152.19L790.55,152.31L791.00,156.62L791.45,152.76L791.90,156.29L792.35,150.92L792.80,151.21L793.25,154.16L793.70,156.36L794.15,155.51L794.60,153.03L795.05,152.20L795.50,153.45L795.95,150.17L796.40,157.24L796.85,150.69L797.30,149.40L797.75,145.93L798.20,147.47L798.65,146.15L799.10,147.49L799.55,146.54L800.00,148.02L800.45,144.19L800.90,146.22L801.35,147.95L801.80,146.75L802.25,144.07L802.70,141.46L803.15,143.42L803.60,149.43L804.05,145.30L804.50,143.28L804.95,136.27L805.40,146.48L805.85,149.50L806.30,146.00L806.75,149.32L807.20,146.09L807.65,146.14L808.10,144.62L808.55,148.39L809.00,153.14L809.45,149.62L809.90,148.50L810.35,144.92L810.80,149.40L811.25,157.08L811.70,151.87L812.15,146.83L812.60,150.81L813.05,152.74L813.50,153.93L813.95,154.18L814.40,150.45L814.85,153.96L815.30,149.92L815.75,150.03L816.20,156.66L816.65,148.82L817.10,148.56L817.55,148.62L818.00,150.77L818.45,147.78L818.90,153.28L819.35,149.42L819.80,150.01L820.25,151.81L820.70,154.20L821.15,156.04L821.60,159.01L822.05,152.49L822.50,151.54L822.95,157.29L823.40,155.91L823.85,156.36L824.30,147.44L824.75,152.33L825.20,157.59L825.65,155.95L826.10,156.49L826.55,152.68L827.00,156.19L827.45,157.49L827.90,156.48L828.35,158.09L828.80,158.80L829.25,155.83L829.70,156.37L830.15,158.42L830.60,157.62L831.05,160.18L831.50,154.85L831.95,158.19L832.40,159.80L832.85,154.02L833.30,158.11L833.75,157.92L834.20,155.02L834.65,158.29L835.10,165.25L835.55,159.39L836.00,159.68L836.45,163.27L836.90,162.05L837.35,164.72L837.80,159.23L838.25,165.27L838.70,163.56L839.15,160.67L839.60,164.08L840.05,162.38L840.50,166.24L840.95,160.93L841.40,167.57L841.85,164.95L842.30,167.64L842.75,166.41L843.20,166.53L843.65,164.14L844.10,167.37L844.55,169.95L845.00,163.38L845.45,164.69L845.90,168.10L846.35,164.97L846.80,164.14L847.25,170.71L847.70,167.55L848.15,165.10L848.60,168.66L849.05,169.04L849.50,166.25L849.95,162.82L850.40,162.53L850.85,168.18L851.30,167.37L851.75,165.76L852.20,165.19L852.65,163.42L853.10,159.13" stroke="#000" stroke-width="1.5" fill="none" stroke-linejoin="round"/>
<path d="M498.00,236.35C499.91,236.29 505.65,236.16 509.48,236.00C513.31,235.85 517.14,235.70 520.96,235.43C524.79,235.16 529.00,234.82 532.44,234.40C535.89,233.98 538.95,233.54 541.63,232.90C544.31,232.27 546.41,231.37 548.52,230.61C550.62,229.84 552.54,229.17 554.26,228.31C555.98,227.45 557.51,226.49 558.85,225.44C560.19,224.39 561.15,223.34 562.29,222.00C563.44,220.66 564.78,218.94 565.74,217.41C566.69,215.87 567.36,214.34 568.03,212.81C568.70,211.28 569.18,210.13 569.76,208.22C570.33,206.31 571.00,203.82 571.48,201.33C571.96,198.84 572.28,196.36 572.63,193.30C572.97,190.23 573.26,186.22 573.55,182.96C573.83,179.71 574.12,176.75 574.35,173.78C574.58,170.80 574.54,170.00 574.93,165.11C575.31,160.22 576.07,151.33 576.65,144.44C577.22,137.55 578.08,130.59 578.37,123.78C578.66,116.96 578.23,109.21 578.39,103.54C578.54,97.87 578.92,94.35 579.31,89.75C579.69,85.16 580.22,79.80 580.68,75.97C581.14,72.13 581.60,68.84 582.06,66.77C582.52,64.70 582.91,64.01 583.44,63.55C583.98,63.09 584.67,63.78 585.28,64.01C585.89,64.24 586.58,64.32 587.12,64.93C587.66,65.55 588.04,66.16 588.50,67.69C588.96,69.22 589.42,71.52 589.88,74.13C590.34,76.73 590.80,79.95 591.26,83.32C591.72,86.69 592.18,90.67 592.64,94.35C593.09,98.03 593.52,100.48 594.01,105.38C594.51,110.29 595.04,118.22 595.59,123.78C596.14,129.33 596.74,134.30 597.31,138.70C597.89,143.10 598.46,146.55 599.04,150.18C599.61,153.82 600.09,157.07 600.76,160.52C601.43,163.96 602.19,167.79 603.05,170.85C603.92,173.91 604.87,176.40 605.92,178.89C606.98,181.37 608.03,183.67 609.37,185.77C610.71,187.88 612.24,189.98 613.96,191.52C615.68,193.05 617.79,194.16 619.70,194.96C621.62,195.76 623.53,196.11 625.44,196.34C627.36,196.57 629.08,196.47 631.18,196.34C633.29,196.20 635.77,195.95 638.07,195.53C640.37,195.11 642.66,194.25 644.96,193.81C647.26,193.37 648.07,193.25 651.85,192.89C655.63,192.54 663.10,191.87 667.63,191.69C672.15,191.51 677.10,191.79 679.00,191.81" stroke="#f00" stroke-width="1.45" fill="none"/>
<path d="M498.00,236.92C501.83,236.83 514.26,236.73 520.96,236.35C527.66,235.97 533.40,235.30 538.18,234.63C542.97,233.96 546.41,233.10 549.66,232.33C552.92,231.57 555.41,230.99 557.70,230.03C560.00,229.08 561.91,227.93 563.44,226.59C564.97,225.25 565.83,223.72 566.89,222.00C567.94,220.28 568.90,218.36 569.76,216.26C570.62,214.15 571.38,211.66 572.05,209.37C572.72,207.07 573.26,204.97 573.77,202.48C574.29,199.99 574.67,197.31 575.15,194.44C575.63,191.57 576.15,188.32 576.65,185.26C577.14,182.20 577.62,179.14 578.14,176.07C578.65,173.01 579.42,169.10 579.75,166.89C580.07,164.68 579.75,166.17 580.09,162.81C580.44,159.45 581.34,151.71 581.81,146.74C582.29,141.76 582.58,137.17 582.96,132.96C583.34,128.75 583.65,125.62 584.11,121.48C584.57,117.34 585.24,111.90 585.74,108.14C586.24,104.39 586.66,101.86 587.12,98.95C587.58,96.04 588.12,92.13 588.50,90.67C588.88,89.22 589.11,89.91 589.42,90.21C589.72,90.52 589.95,90.90 590.34,92.51C590.72,94.12 591.26,97.11 591.72,99.87C592.18,102.63 592.54,104.88 593.09,109.06C593.65,113.24 594.41,119.98 595.02,124.93C595.62,129.87 596.17,134.49 596.74,138.70C597.31,142.91 597.89,146.74 598.46,150.18C599.04,153.63 599.51,156.12 600.18,159.37C600.85,162.62 601.62,166.45 602.48,169.70C603.34,172.95 604.30,176.21 605.35,178.89C606.40,181.57 607.55,183.77 608.79,185.77C610.04,187.78 611.19,189.51 612.81,190.94C614.44,192.38 616.64,193.52 618.55,194.39C620.47,195.25 622.19,195.78 624.29,196.11C626.40,196.43 628.89,196.43 631.18,196.34C633.48,196.24 635.77,195.95 638.07,195.53C640.37,195.11 642.66,194.25 644.96,193.81C647.26,193.37 648.07,193.25 651.85,192.89C655.63,192.54 662.89,191.85 667.63,191.69C672.36,191.53 676.05,191.86 680.26,191.94C684.47,192.02 688.68,192.09 692.89,192.19C697.10,192.30 701.94,192.47 705.52,192.57C709.09,192.68 711.20,192.72 714.36,192.82C717.51,192.93 721.72,193.25 724.46,193.21C727.20,193.16 728.67,193.10 730.77,192.57C732.88,192.05 734.98,191.00 737.09,190.05C739.19,189.10 741.30,187.88 743.40,186.89C745.51,185.90 747.61,184.85 749.72,184.11C751.82,183.38 755.15,182.67 756.03,182.47C756.91,182.27 753.16,183.26 755.00,182.93C756.84,182.60 763.04,181.22 767.06,180.52C771.07,179.82 775.09,179.31 779.11,178.71C783.13,178.11 787.15,177.61 791.17,176.90C795.18,176.20 799.20,175.30 803.22,174.49C807.24,173.69 811.26,172.78 815.28,172.08C819.29,171.38 823.31,170.73 827.33,170.27C831.35,169.81 835.07,169.51 839.39,169.31C843.71,169.11 850.94,169.11 853.25,169.07" stroke="#f0f" stroke-width="1.45" fill="none"/>
<path d="M498.00,238.65C501.83,238.61 513.31,238.51 520.96,238.42C528.62,238.32 537.23,238.22 543.92,238.07C550.62,237.92 557.63,237.81 561.15,237.50C564.66,237.19 563.16,236.88 565.00,236.20C566.84,235.52 569.67,234.90 572.20,233.40C574.73,231.90 577.53,229.85 580.20,227.20C582.87,224.55 585.52,220.18 588.20,217.50C590.88,214.82 593.62,212.97 596.30,211.10C598.98,209.23 601.63,207.50 604.30,206.30C606.97,205.10 609.62,204.48 612.30,203.90C614.98,203.32 617.64,203.28 620.40,202.80C623.16,202.32 625.94,201.68 628.89,201.00C631.83,200.32 635.39,199.57 638.07,198.70C640.75,197.84 642.66,196.69 644.96,195.83C647.26,194.97 650.18,194.09 651.85,193.54C653.52,192.98 652.37,192.71 655.00,192.49C657.63,192.28 663.42,192.28 667.63,192.24C671.84,192.20 676.05,192.20 680.26,192.24C684.47,192.28 688.68,192.35 692.89,192.49C697.10,192.64 701.31,192.91 705.52,193.12C709.73,193.33 714.99,193.65 718.15,193.76C721.30,193.86 722.36,193.86 724.46,193.76C726.57,193.65 728.67,193.65 730.77,193.12C732.88,192.60 734.98,191.55 737.09,190.60C739.19,189.65 741.30,188.43 743.40,187.44C745.51,186.45 747.61,185.40 749.72,184.66C751.82,183.93 755.15,183.22 756.03,183.02C756.91,182.82 753.16,183.81 755.00,183.48C756.84,183.15 763.04,181.77 767.06,181.07C771.07,180.37 775.09,179.86 779.11,179.26C783.13,178.66 787.15,178.16 791.17,177.45C795.18,176.75 799.20,175.85 803.22,175.04C807.24,174.24 811.26,173.33 815.28,172.63C819.29,171.93 823.31,171.28 827.33,170.82C831.35,170.36 835.07,170.06 839.39,169.86C843.71,169.66 850.94,169.66 853.25,169.62" stroke="#00f" stroke-width="1.45" fill="none"/>
<path d="M498.00,238.07C501.83,238.03 514.26,238.03 520.96,237.84C527.66,237.65 533.40,237.27 538.18,236.92C542.97,236.58 546.41,236.25 549.66,235.77C552.92,235.30 555.41,234.82 557.70,234.05C560.00,233.29 561.72,232.43 563.44,231.18C565.16,229.94 566.69,228.31 568.03,226.59C569.37,224.87 570.52,222.95 571.48,220.85C572.44,218.74 573.11,216.45 573.77,213.96C574.44,211.47 574.96,208.79 575.50,205.92C576.03,203.05 576.57,199.80 576.99,196.74C577.41,193.68 577.70,190.62 578.02,187.55C578.35,184.49 578.65,181.43 578.94,178.37C579.23,175.31 579.65,172.93 579.75,169.18C579.84,165.44 579.36,160.05 579.52,155.92C579.67,151.80 580.38,146.64 580.67,144.44C580.95,142.24 580.95,142.72 581.24,142.72C581.53,142.72 581.91,141.86 582.39,144.44C582.87,147.03 583.54,153.25 584.11,158.22C584.68,163.20 585.26,169.32 585.83,174.29C586.41,179.27 586.98,184.24 587.55,188.07C588.13,191.90 588.61,194.96 589.28,197.26C589.95,199.55 590.52,200.85 591.57,201.85C592.63,202.84 593.58,203.00 595.59,203.23C597.60,203.46 600.95,203.36 603.63,203.23C606.31,203.09 608.99,202.71 611.66,202.42C614.34,202.14 616.83,201.79 619.70,201.50C622.57,201.22 625.82,201.22 628.89,200.70C631.95,200.18 635.39,199.27 638.07,198.40C640.75,197.54 642.66,196.39 644.96,195.53C647.26,194.67 650.18,193.79 651.85,193.24C653.52,192.68 652.37,192.41 655.00,192.19C657.63,191.98 663.42,191.98 667.63,191.94C671.84,191.90 676.05,191.90 680.26,191.94C684.47,191.98 688.68,192.05 692.89,192.19C697.10,192.34 701.31,192.61 705.52,192.82C709.73,193.03 714.99,193.35 718.15,193.46C721.30,193.56 722.36,193.56 724.46,193.46C726.57,193.35 728.67,193.35 730.77,192.82C732.88,192.30 734.98,191.25 737.09,190.30C739.19,189.35 741.30,188.13 743.40,187.14C745.51,186.15 747.61,185.10 749.72,184.36C751.82,183.63 755.15,182.92 756.03,182.72C756.91,182.52 753.16,183.51 755.00,183.18C756.84,182.85 763.04,181.47 767.06,180.77C771.07,180.07 775.09,179.56 779.11,178.96C783.13,178.36 787.15,177.86 791.17,177.15C795.18,176.45 799.20,175.55 803.22,174.74C807.24,173.94 811.26,173.03 815.28,172.33C819.29,171.63 823.31,170.98 827.33,170.52C831.35,170.06 835.07,169.76 839.39,169.56C843.71,169.36 850.94,169.36 853.25,169.32" stroke="#0ff" stroke-width="1.45" fill="none"/>
<text x="565.1" y="47.5" font-size="11" text-anchor="start" font-weight="normal" >2p3/2</text>
<text x="608.3" y="96.2" font-size="11" text-anchor="start" font-weight="normal" >72.7%</text>
<text x="715.0" y="118.9" font-size="11" text-anchor="start" font-weight="normal" >2p1/2</text>
<text x="529.2" y="140.9" font-size="11" text-anchor="start" font-weight="normal" >27.3%</text>
<text x="613.8" y="109.5" font-size="11">Ni<tspan font-size="6.5" dy="-4.5">3+</tspan></text>
<text x="536.5" y="157.4" font-size="11">Ni<tspan font-size="6.5" dy="-4.5">2+</tspan></text>
<path d="M616.3,111.7L597.8,131.1" stroke="#333" stroke-width="0.8" fill="none"/>
<path d="M593.3,135.8L595.9,129.3L596.8,132.2L599.7,132.9Z" fill="#000"/>
<path d="M552.2,155.0L577.2,179.0" stroke="#333" stroke-width="0.8" fill="none"/>
<path d="M581.9,183.5L575.4,180.9L578.3,180.0L579.0,177.1Z" fill="#000"/>
<path d="M67.25,588.11L67.70,580.23L68.15,580.54L68.60,580.03L69.05,577.72L69.50,579.83L69.95,579.94L70.40,578.37L70.85,584.33L71.30,582.53L71.75,580.54L72.20,581.04L72.65,578.97L73.10,575.84L73.55,580.60L74.00,580.75L74.45,578.93L74.90,576.06L75.35,578.92L75.80,577.70L76.25,570.36L76.70,586.23L77.15,578.15L77.60,574.69L78.05,580.28L78.50,574.66L78.95,578.09L79.40,574.79L79.85,583.26L80.30,576.15L80.75,569.82L81.20,578.92L81.65,576.12L82.10,579.41L82.55,576.53L83.00,580.32L83.45,571.33L83.90,577.55L84.35,573.50L84.80,577.45L85.25,578.31L85.70,577.71L86.15,575.97L86.60,578.28L87.05,578.04L87.50,577.03L87.95,574.27L88.40,577.32L88.85,577.12L89.30,572.11L89.75,574.11L90.20,575.70L90.65,575.96L91.10,585.15L91.55,575.09L92.00,577.85L92.45,580.21L92.90,578.34L93.35,577.18L93.80,575.10L94.25,574.71L94.70,580.76L95.15,573.52L95.60,573.16L96.05,576.00L96.50,576.23L96.95,572.78L97.40,577.07L97.85,575.29L98.30,574.09L98.75,575.09L99.20,573.93L99.65,573.46L100.10,571.05L100.55,573.27L101.00,570.68L101.45,575.60L101.90,577.98L102.35,574.84L102.80,575.78L103.25,574.91L103.70,575.18L104.15,575.23L104.60,577.29L105.05,574.51L105.50,573.37L105.95,575.84L106.40,574.69L106.85,574.41L107.30,575.16L107.75,579.23L108.20,574.22L108.65,574.93L109.10,577.12L109.55,575.24L110.00,580.40L110.45,573.97L110.90,567.48L111.35,568.93L111.80,572.78L112.25,575.11L112.70,568.91L113.15,575.46L113.60,572.63L114.05,572.06L114.50,571.50L114.95,574.85L115.40,575.91L115.85,574.11L116.30,570.58L116.75,570.18L117.20,570.32L117.65,572.73L118.10,575.03L118.55,572.78L119.00,570.32L119.45,572.39L119.90,569.99L120.35,570.12L120.80,568.31L121.25,571.65L121.70,571.19L122.15,573.96L122.60,568.98L123.05,569.65L123.50,572.17L123.95,565.68L124.40,569.67L124.85,567.78L125.30,569.17L125.75,568.42L126.20,567.55L126.65,569.22L127.10,568.38L127.55,569.64L128.00,564.44L128.45,566.23L128.90,567.52L129.35,567.01L129.80,565.60L130.25,561.77L130.70,562.22L131.15,565.34L131.60,561.17L132.05,561.40L132.50,561.03L132.95,562.05L133.40,560.23L133.85,562.52L134.30,560.53L134.75,559.46L135.20,557.99L135.65,559.54L136.10,557.07L136.55,558.48L137.00,554.51L137.45,555.46L137.90,550.64L138.35,546.22L138.80,544.25L139.25,541.01L139.70,537.39L140.15,533.02L140.60,528.45L141.05,525.44L141.50,519.56L141.95,515.08L142.40,511.19L142.85,509.21L143.30,503.94L143.75,498.68L144.20,496.04L144.65,491.27L145.10,486.15L145.55,480.01L146.00,471.62L146.45,462.38L146.90,449.91L147.35,442.11L147.80,435.96L148.25,429.88L148.70,423.98L149.15,415.62L149.60,413.34L150.05,403.27L150.50,401.97L150.95,397.54L151.40,395.51L151.85,391.43L152.30,387.11L152.75,379.28L153.20,380.24L153.65,379.93L154.10,375.31L154.55,375.68L155.00,377.69L155.45,381.12L155.90,379.98L156.35,384.06L156.80,387.50L157.25,387.58L157.70,390.18L158.15,394.41L158.60,399.03L159.05,400.26L159.50,404.21L159.95,405.78L160.40,407.54L160.85,410.90L161.30,414.00L161.75,420.06L162.20,419.17L162.65,425.66L163.10,429.99L163.55,432.01L164.00,444.47L164.45,450.96L164.90,451.86L165.35,453.39L165.80,458.02L166.25,458.03L166.70,462.53L167.15,464.59L167.60,467.10L168.05,470.69L168.50,472.34L168.95,478.05L169.40,479.03L169.85,482.76L170.30,485.35L170.75,490.33L171.20,489.56L171.65,486.20L172.10,495.71L172.55,499.51L173.00,500.94L173.45,499.95L173.90,502.85L174.35,504.78L174.80,508.59L175.25,507.88L175.70,512.48L176.15,511.43L176.60,510.48L177.05,511.19L177.50,512.15L177.95,514.14L178.40,516.57L178.85,516.24L179.30,518.02L179.75,518.20L180.20,517.48L180.65,520.40L181.10,518.66L181.55,518.79L182.00,523.60L182.45,521.42L182.90,521.42L183.35,526.15L183.80,525.98L184.25,517.70L184.70,527.82L185.15,526.91L185.60,528.67L186.05,531.62L186.50,524.84L186.95,529.22L187.40,526.24L187.85,528.35L188.30,532.64L188.75,531.59L189.20,525.09L189.65,526.79L190.10,520.61L190.55,523.53L191.00,525.47L191.45,529.07L191.90,529.34L192.35,524.53L192.80,523.04L193.25,520.19L193.70,523.80L194.15,522.05L194.60,513.52L195.05,523.66L195.50,518.72L195.95,520.18L196.40,519.74L196.85,516.77L197.30,520.09L197.75,512.86L198.20,509.44L198.65,516.19L199.10,513.04L199.55,513.59L200.00,507.32L200.45,505.14L200.90,508.20L201.35,505.57L201.80,506.93L202.25,506.31L202.70,501.02L203.15,492.46L203.60,503.04L204.05,496.17L204.50,495.44L204.95,495.31L205.40,501.78L205.85,492.35L206.30,491.54L206.75,491.07L207.20,488.30L207.65,486.67L208.10,482.42L208.55,484.73L209.00,486.15L209.45,485.33L209.90,485.68L210.35,482.32L210.80,479.09L211.25,480.65L211.70,481.07L212.15,483.74L212.60,487.57L213.05,483.63L213.50,483.65L213.95,486.90L214.40,487.60L214.85,479.71L215.30,490.79L215.75,490.01L216.20,491.96L216.65,492.87L217.10,491.65L217.55,494.42L218.00,494.51L218.45,500.25L218.90,493.26L219.35,498.56L219.80,500.15L220.25,504.59L220.70,503.05L221.15,504.50L221.60,497.38L222.05,508.54L222.50,505.01L222.95,506.27L223.40,511.46L223.85,510.65L224.30,509.07L224.75,508.16L225.20,513.42L225.65,510.06L226.10,507.91L226.55,511.17L227.00,513.77L227.45,515.06L227.90,518.12L228.35,517.56L228.80,518.29L229.25,518.20L229.70,515.51L230.15,509.56L230.60,516.76L231.05,520.92L231.50,525.59L231.95,521.97L232.40,517.34L232.85,522.89L233.30,524.42L233.75,523.08L234.20,519.36L234.65,524.46L235.10,525.18L235.55,523.68L236.00,526.30L236.45,522.97L236.90,526.26L237.35,526.75L237.80,523.33L238.25,530.93L238.70,527.71L239.15,526.56L239.60,531.73L240.05,535.54L240.50,531.58L240.95,530.78L241.40,529.90L241.85,529.14L242.30,532.63L242.75,532.09L243.20,528.58L243.65,532.49L244.10,535.24L244.55,535.59L245.00,534.18L245.45,536.05L245.90,534.08L246.35,538.59L246.80,537.77L247.25,537.82L247.70,535.83L248.15,535.67L248.60,535.70L249.05,536.38L249.50,535.08L249.95,541.21L250.40,538.44L250.85,538.76L251.30,537.89L251.75,538.16L252.20,542.04L252.65,544.14L253.10,539.15L253.55,538.70L254.00,529.94L254.45,534.73L254.90,540.25L255.35,537.44L255.80,538.21L256.25,539.03L256.70,535.85L257.15,536.41L257.60,538.53L258.05,537.63L258.50,542.08L258.95,539.66L259.40,541.25L259.85,541.03L260.30,540.16L260.75,541.49L261.20,538.63L261.65,542.57L262.10,543.29L262.55,545.69L263.00,537.43L263.45,539.80L263.90,540.33L264.35,542.32L264.80,541.48L265.25,540.44L265.70,541.16L266.15,540.88L266.60,539.36L267.05,542.12L267.50,537.84L267.95,542.19L268.40,542.16L268.85,543.54L269.30,542.93L269.75,540.59L270.20,541.60L270.65,543.01L271.10,545.76L271.55,545.07L272.00,545.99L272.45,548.71L272.90,546.12L273.35,546.20L273.80,546.51L274.25,546.49L274.70,541.39L275.15,546.55L275.60,546.42L276.05,550.27L276.50,546.79L276.95,547.13L277.40,545.75L277.85,549.40L278.30,548.70L278.75,549.15L279.20,543.40L279.65,542.64L280.10,541.87L280.55,549.62L281.00,547.12L281.45,552.03L281.90,544.65L282.35,544.09L282.80,546.79L283.25,543.11L283.70,547.21L284.15,542.52L284.60,535.73L285.05,542.47L285.50,540.48L285.95,541.33L286.40,545.20L286.85,543.51L287.30,542.16L287.75,543.28L288.20,541.88L288.65,539.93L289.10,540.43L289.55,549.12L290.00,541.62L290.45,544.56L290.90,539.68L291.35,541.08L291.80,536.82L292.25,538.01L292.70,536.76L293.15,536.01L293.60,538.38L294.05,538.05L294.50,535.70L294.95,533.14L295.40,531.80L295.85,527.26L296.30,531.09L296.75,522.06L297.20,526.53L297.65,521.44L298.10,523.00L298.55,521.33L299.00,520.03L299.45,515.73L299.90,512.11L300.35,515.86L300.80,505.53L301.25,501.58L301.70,499.82L302.15,495.88L302.60,489.92L303.05,488.38L303.50,487.99L303.95,480.40L304.40,486.86L304.85,481.84L305.30,480.07L305.75,477.38L306.20,476.38L306.65,476.52L307.10,472.93L307.55,473.34L308.00,471.61L308.45,468.47L308.90,465.63L309.35,466.76L309.80,461.66L310.25,464.49L310.70,464.19L311.15,463.27L311.60,465.49L312.05,458.36L312.50,461.27L312.95,462.32L313.40,465.08L313.85,464.74L314.30,467.36L314.75,458.51L315.20,472.12L315.65,471.76L316.10,467.81L316.55,474.88L317.00,470.71L317.45,473.64L317.90,477.74L318.35,477.47L318.80,477.47L319.25,482.09L319.70,481.11L320.15,474.18L320.60,478.10L321.05,480.55L321.50,483.33L321.95,487.25L322.40,487.34L322.85,490.65L323.30,493.54L323.75,492.39L324.20,492.83L324.65,494.54L325.10,494.13L325.55,496.07L326.00,495.09L326.45,494.51L326.90,497.95L327.35,497.51L327.80,498.00L328.25,501.66L328.70,505.62L329.15,499.66L329.60,499.01L330.05,500.68L330.50,503.68L330.95,501.35L331.40,499.04L331.85,508.10L332.30,504.31L332.75,500.82L333.20,504.66L333.65,500.81L334.10,507.36L334.55,507.45L335.00,500.68L335.45,507.85L335.90,510.50L336.35,513.23L336.80,512.06L337.25,509.74L337.70,511.52L338.15,510.69L338.60,509.11L339.05,510.99L339.50,513.42L339.95,513.14L340.40,510.08L340.85,509.87L341.30,505.84L341.75,510.43L342.20,508.09L342.65,508.24L343.10,506.30L343.55,511.72L344.00,505.99L344.45,507.94L344.90,505.99L345.35,513.26L345.80,505.54L346.25,515.97L346.70,508.42L347.15,504.45L347.60,507.99L348.05,505.47L348.50,509.74L348.95,508.42L349.40,505.62L349.85,506.34L350.30,502.40L350.75,499.09L351.20,503.34L351.65,509.62L352.10,506.01L352.55,496.23L353.00,499.33L353.45,503.14L353.90,502.60L354.35,503.77L354.80,501.66L355.25,501.85L355.70,503.57L356.15,501.51L356.60,502.35L357.05,499.08L357.50,499.74L357.95,495.74L358.40,492.96L358.85,497.24L359.30,499.53L359.75,498.57L360.20,495.35L360.65,493.09L361.10,493.65L361.55,492.44L362.00,489.59L362.45,491.01L362.90,494.43L363.35,489.49L363.80,487.04L364.25,486.31L364.70,485.99L365.15,493.55L365.60,487.30L366.05,487.14L366.50,482.61L366.95,487.28L367.40,490.05L367.85,489.44L368.30,489.02L368.75,489.33L369.20,490.48L369.65,489.88L370.10,491.38L370.55,492.03L371.00,491.01L371.45,491.20L371.90,488.30L372.35,490.31L372.80,489.66L373.25,486.86L373.70,489.65L374.15,489.29L374.60,491.90L375.05,488.15L375.50,489.22L375.95,485.06L376.40,490.10L376.85,491.08L377.30,493.01L377.75,492.46L378.20,489.03L378.65,491.47L379.10,490.87L379.55,485.08L380.00,485.80L380.45,485.94L380.90,485.94L381.35,488.53L381.80,491.01L382.25,487.90L382.70,489.47L383.15,488.95L383.60,491.12L384.05,490.51L384.50,491.35L384.95,492.15L385.40,495.45L385.85,493.95L386.30,494.72L386.75,489.62L387.20,495.90L387.65,494.89L388.10,493.67L388.55,497.57L389.00,493.76L389.45,494.55L389.90,497.22L390.35,493.62L390.80,491.47L391.25,493.63L391.70,497.75L392.15,494.93L392.60,496.71L393.05,498.06L393.50,494.30L393.95,497.69L394.40,498.27L394.85,498.68L395.30,501.11L395.75,493.26L396.20,498.07L396.65,497.85L397.10,499.55L397.55,499.03L398.00,498.29L398.45,499.38L398.90,502.61L399.35,499.00L399.80,503.73L400.25,500.68L400.70,505.14L401.15,504.37L401.60,501.03L402.05,504.92L402.50,505.03L402.95,503.92L403.40,498.92L403.85,502.51L404.30,505.72L404.75,508.36L405.20,503.79L405.65,505.76L406.10,513.86L406.55,507.96L407.00,503.20L407.45,506.83L407.90,510.16L408.35,504.38L408.80,505.46L409.25,506.49L409.70,505.07L410.15,502.59L410.60,503.50L411.05,508.45L411.50,511.15L411.95,509.92L412.40,510.25L412.85,507.47L413.30,508.17L413.75,507.17L414.20,507.78L414.65,508.54L415.10,510.16L415.55,511.09L416.00,512.06L416.45,511.27L416.90,517.92L417.35,513.12L417.80,515.67L418.25,513.47L418.70,514.17L419.15,512.22" stroke="#000" stroke-width="1.6" fill="none" stroke-linejoin="round"/>
<path d="M67.00,585.83C69.04,585.53 75.17,584.61 79.26,583.99C83.34,583.38 87.43,582.87 91.51,582.16C95.60,581.44 99.69,580.62 103.77,579.70C107.86,578.78 112.97,577.56 116.03,576.64C119.09,575.72 120.12,575.21 122.16,574.19C124.20,573.17 126.45,571.94 128.29,570.51C130.13,569.08 131.76,567.65 133.19,565.61C134.62,563.56 135.85,561.11 136.87,558.25C137.89,555.39 138.60,552.12 139.32,548.45C140.03,544.77 140.65,540.07 141.16,536.19C141.67,532.31 141.97,529.04 142.38,525.16C142.79,521.28 143.20,517.60 143.61,512.90C144.02,508.20 144.47,502.07 144.83,496.97C145.20,491.86 145.27,493.35 145.82,482.26C146.36,471.16 147.53,441.63 148.09,430.38C148.66,419.13 148.82,419.66 149.20,414.75C149.58,409.85 149.96,404.80 150.39,400.97C150.82,397.13 151.31,394.53 151.77,391.77C152.23,389.01 152.69,386.03 153.15,384.42C153.61,382.81 154.07,382.43 154.53,382.12C154.99,381.81 155.45,381.89 155.91,382.58C156.37,383.27 156.83,384.42 157.29,386.26C157.75,388.09 158.21,390.85 158.67,393.61C159.13,396.37 159.59,399.43 160.05,402.80C160.51,406.17 161.00,410.16 161.42,413.84C161.85,417.51 162.24,421.19 162.62,424.87C163.00,428.54 163.62,432.83 163.72,435.90C163.83,438.97 162.99,439.84 163.24,443.28C163.49,446.72 164.57,452.13 165.23,456.56C165.89,460.98 166.56,465.41 167.22,469.84C167.89,474.26 168.44,478.69 169.21,483.12C169.99,487.54 170.98,492.41 171.87,496.39C172.75,500.38 173.53,503.92 174.53,507.02C175.52,510.12 176.74,512.55 177.84,514.98C178.95,517.42 179.95,519.85 181.16,521.62C182.38,523.39 183.60,524.61 185.15,525.61C186.70,526.60 188.69,527.27 190.46,527.60C192.23,527.93 193.78,527.82 195.77,527.60C197.76,527.38 200.20,526.94 202.41,526.27C204.62,525.61 206.84,524.39 209.05,523.62C211.26,522.84 213.48,522.04 215.69,521.62C217.90,521.20 220.56,521.14 222.33,521.09C224.10,521.05 225.65,521.31 226.31,521.36" stroke="#f00" stroke-width="1.45" fill="none"/>
<path d="M67.00,586.20C69.04,585.93 75.17,585.14 79.26,584.61C83.34,584.08 87.43,583.63 91.51,583.01C95.60,582.40 99.69,581.79 103.77,580.93C107.86,580.07 112.76,578.78 116.03,577.87C119.30,576.95 121.14,576.44 123.38,575.41C125.63,574.39 127.67,573.17 129.51,571.74C131.35,570.31 132.99,568.88 134.42,566.83C135.85,564.79 137.07,562.13 138.09,559.48C139.11,556.82 139.73,554.37 140.54,550.90C141.36,547.43 142.18,543.54 143.00,538.64C143.81,533.74 144.73,526.79 145.45,521.48C146.16,516.17 146.71,511.68 147.29,506.77C147.86,501.87 148.37,496.97 148.88,492.06C149.39,487.16 149.56,487.02 150.35,477.35C151.14,467.69 152.84,442.81 153.61,434.06C154.38,425.31 154.53,427.93 154.99,424.87C155.45,421.80 155.91,417.67 156.37,415.67C156.83,413.68 157.32,412.92 157.75,412.92C158.18,412.92 158.53,413.99 158.94,415.67C159.36,417.36 159.82,420.27 160.23,423.03C160.64,425.79 161.03,429.00 161.42,432.22C161.82,435.44 162.21,440.49 162.62,442.33C163.03,444.18 163.36,440.91 163.90,443.28C164.45,445.65 165.23,451.91 165.89,456.56C166.56,461.21 167.22,466.52 167.89,471.16C168.55,475.81 169.10,480.02 169.88,484.44C170.65,488.87 171.65,493.74 172.53,497.72C173.42,501.71 174.19,505.25 175.19,508.35C176.18,511.44 177.29,513.88 178.51,516.31C179.73,518.75 180.94,521.23 182.49,522.95C184.04,524.68 185.59,525.83 187.80,526.67C190.02,527.51 193.12,528.00 195.77,528.00C198.43,528.00 201.08,527.40 203.74,526.67C206.39,525.94 209.05,524.41 211.71,523.62C214.36,522.82 217.02,522.18 219.67,521.89C222.33,521.60 225.43,521.75 227.64,521.89C229.85,522.03 223.74,521.49 232.95,522.70C242.16,523.91 272.67,527.91 282.90,529.15C293.13,530.39 291.48,530.08 294.34,530.15C297.20,530.22 298.15,530.22 300.06,529.58C301.97,528.93 303.87,527.43 305.78,526.29C307.69,525.14 309.59,523.78 311.50,522.71C313.41,521.64 315.31,520.69 317.22,519.85C319.13,519.02 321.04,518.30 322.94,517.71C324.85,517.11 326.76,516.68 328.66,516.28C330.57,515.87 334.16,515.40 334.38,515.28C334.61,515.15 328.82,515.58 330.00,515.52C331.18,515.47 337.65,515.24 341.48,514.95C345.31,514.66 349.14,514.38 352.96,513.80C356.79,513.23 360.62,512.37 364.44,511.51C368.27,510.65 372.10,509.50 375.92,508.64C379.75,507.78 383.58,506.88 387.41,506.34C391.23,505.80 395.06,505.57 398.89,505.42C402.71,505.27 406.54,505.42 410.37,505.42C414.19,505.42 419.93,505.42 421.85,505.42" stroke="#f0f" stroke-width="1.45" fill="none"/>
<path d="M67.00,587.67C71.09,587.36 85.39,586.34 91.51,585.83C97.64,585.32 100.69,585.00 103.77,584.61C106.85,584.22 107.95,583.78 110.00,583.50C112.05,583.22 113.77,583.18 116.10,582.90C118.43,582.62 121.32,582.23 124.00,581.80C126.68,581.37 129.50,581.00 132.20,580.30C134.90,579.60 137.53,579.35 140.20,577.60C142.87,575.85 145.78,572.93 148.20,569.80C150.62,566.67 152.55,562.52 154.70,558.80C156.85,555.08 158.97,550.72 161.10,547.50C163.23,544.28 165.35,541.50 167.50,539.50C169.65,537.50 171.85,536.48 174.00,535.50C176.15,534.52 177.21,534.20 180.40,533.60C183.59,533.00 189.89,532.28 193.12,531.88C196.34,531.49 197.54,531.77 199.75,531.22C201.97,530.67 204.18,529.56 206.39,528.56C208.61,527.57 210.82,526.13 213.03,525.24C215.25,524.36 217.46,523.69 219.67,523.25C221.89,522.81 224.10,522.59 226.31,522.59C228.53,522.59 223.52,522.07 232.95,523.25C242.38,524.44 272.67,528.46 282.90,529.70C293.13,530.94 291.48,530.63 294.34,530.70C297.20,530.77 298.15,530.77 300.06,530.13C301.97,529.48 303.87,527.98 305.78,526.84C307.69,525.69 309.59,524.33 311.50,523.26C313.41,522.19 315.31,521.24 317.22,520.40C319.13,519.57 321.04,518.85 322.94,518.26C324.85,517.66 326.76,517.23 328.66,516.83C330.57,516.42 334.16,515.95 334.38,515.83C334.61,515.70 328.82,516.13 330.00,516.07C331.18,516.02 337.65,515.79 341.48,515.50C345.31,515.21 349.14,514.93 352.96,514.35C356.79,513.78 360.62,512.92 364.44,512.06C368.27,511.20 372.10,510.05 375.92,509.19C379.75,508.33 383.58,507.43 387.41,506.89C391.23,506.35 395.06,506.12 398.89,505.97C402.71,505.82 406.54,505.97 410.37,505.97C414.19,505.97 419.93,505.97 421.85,505.97" stroke="#00f" stroke-width="1.45" fill="none"/>
<path d="M67.00,587.06C71.09,586.75 84.36,585.93 91.51,585.22C98.66,584.50 104.79,583.69 109.90,582.77C115.01,581.85 118.69,580.93 122.16,579.70C125.63,578.48 128.29,577.15 130.74,575.41C133.19,573.68 135.23,571.74 136.87,569.28C138.50,566.83 139.52,564.18 140.54,560.70C141.57,557.23 142.28,552.53 143.00,548.45C143.71,544.36 144.26,540.68 144.83,536.19C145.41,531.70 145.96,525.98 146.43,521.48C146.90,516.99 147.25,513.31 147.65,509.22C148.06,505.14 148.47,500.23 148.88,496.97C149.29,493.70 149.76,491.04 150.11,489.61C150.45,488.18 150.68,488.18 150.96,488.39C151.25,488.59 151.51,489.20 151.82,490.84C152.13,492.47 152.43,495.13 152.80,498.19C153.17,501.26 153.62,505.75 154.03,509.22C154.44,512.70 154.74,516.17 155.25,519.03C155.76,521.89 156.48,524.34 157.09,526.38C157.70,528.43 158.22,530.16 158.93,531.29C159.65,532.41 160.36,532.76 161.38,533.13C162.40,533.49 163.09,533.53 165.06,533.49C167.03,533.46 170.29,533.12 173.20,532.91C176.10,532.70 179.17,532.47 182.49,532.25C185.81,532.03 190.24,531.80 193.12,531.58C195.99,531.36 197.54,531.47 199.75,530.92C201.97,530.37 204.18,529.26 206.39,528.26C208.61,527.27 210.82,525.83 213.03,524.94C215.25,524.06 217.46,523.39 219.67,522.95C221.89,522.51 224.10,522.29 226.31,522.29C228.53,522.29 223.52,521.77 232.95,522.95C242.38,524.14 272.67,528.16 282.90,529.40C293.13,530.64 291.48,530.33 294.34,530.40C297.20,530.47 298.15,530.47 300.06,529.83C301.97,529.18 303.87,527.68 305.78,526.54C307.69,525.39 309.59,524.03 311.50,522.96C313.41,521.89 315.31,520.94 317.22,520.10C319.13,519.27 321.04,518.55 322.94,517.96C324.85,517.36 326.76,516.93 328.66,516.53C330.57,516.12 334.16,515.65 334.38,515.53C334.61,515.40 328.82,515.83 330.00,515.77C331.18,515.72 337.65,515.49 341.48,515.20C345.31,514.91 349.14,514.63 352.96,514.05C356.79,513.48 360.62,512.62 364.44,511.76C368.27,510.90 372.10,509.75 375.92,508.89C379.75,508.03 383.58,507.13 387.41,506.59C391.23,506.05 395.06,505.82 398.89,505.67C402.71,505.52 406.54,505.67 410.37,505.67C414.19,505.67 419.93,505.67 421.85,505.67" stroke="#0ff" stroke-width="1.45" fill="none"/>
<text x="136.0" y="372.0" font-size="11" text-anchor="start" font-weight="normal" >2p3/2</text>
<text x="178.4" y="426.3" font-size="11" text-anchor="start" font-weight="normal" >75.3%</text>
<text x="100.9" y="476.7" font-size="11" text-anchor="start" font-weight="normal" >24.7%</text>
<text x="289.4" y="456.9" font-size="11" text-anchor="start" font-weight="normal" >2p1/2</text>
<text x="180.6" y="441.0" font-size="11">Ni<tspan font-size="6.5" dy="-4.5">3+</tspan></text>
<text x="107.3" y="496.5" font-size="11">Ni<tspan font-size="6.5" dy="-4.5">2+</tspan></text>
<path d="M182.5,444.6L165.1,467.3" stroke="#333" stroke-width="0.8" fill="none"/>
<path d="M161.2,472.5L163.1,465.8L164.2,468.5L167.2,468.9Z" fill="#000"/>
<path d="M122.2,496.2L145.2,521.8" stroke="#333" stroke-width="0.8" fill="none"/>
<path d="M149.5,526.6L143.2,523.5L146.2,522.9L147.1,520.0Z" fill="#000"/>
<path d="M497.00,577.45C499.04,577.24 505.17,576.69 509.26,576.22C513.34,575.75 517.43,575.18 521.51,574.63C525.60,574.08 529.69,573.56 533.77,572.91C537.86,572.26 542.76,571.48 546.03,570.70C549.30,569.93 551.14,569.27 553.38,568.25C555.63,567.23 557.78,566.01 559.51,564.58C561.25,563.15 562.58,561.51 563.80,559.67C565.03,557.83 565.95,556.00 566.87,553.54C567.79,551.09 568.60,548.64 569.32,544.96C570.03,541.29 570.65,536.18 571.16,531.48C571.67,526.78 571.97,522.29 572.38,516.77C572.79,511.26 573.26,503.49 573.61,498.39C573.96,493.28 573.72,496.63 574.47,486.13C575.21,475.63 577.31,445.99 578.09,435.38C578.88,424.78 578.86,426.50 579.20,422.51C579.54,418.53 579.81,415.16 580.12,411.48C580.42,407.80 580.73,403.51 581.04,400.45C581.34,397.39 581.65,395.24 581.96,393.09C582.26,390.95 582.52,388.99 582.88,387.58C583.23,386.17 583.64,385.22 584.07,384.64C584.50,384.06 585.04,383.98 585.45,384.09C585.86,384.19 586.17,384.55 586.55,385.28C586.94,386.02 587.36,387.12 587.75,388.50C588.13,389.88 588.51,391.72 588.85,393.55C589.19,395.39 589.46,397.46 589.77,399.53C590.08,401.60 590.38,403.67 590.69,405.97C591.00,408.26 591.30,410.87 591.61,413.32C591.92,415.77 592.22,417.92 592.53,420.67C592.83,423.43 593.14,426.80 593.45,429.87C593.75,432.93 594.53,438.60 594.37,439.06C594.21,439.52 592.48,431.60 592.48,432.63C592.48,433.66 593.74,441.05 594.37,445.26C595.01,449.47 595.66,453.68 596.27,457.89C596.88,462.10 597.43,466.73 598.04,470.52C598.65,474.31 599.30,477.25 599.93,480.62C600.56,483.99 601.09,487.36 601.83,490.72C602.56,494.09 603.40,497.50 604.35,500.83C605.30,504.15 606.35,507.60 607.51,510.68C608.67,513.75 609.93,516.99 611.30,519.27C612.67,521.54 614.18,523.05 615.72,524.32C617.25,525.58 618.66,526.25 620.52,526.84C622.37,527.43 624.73,527.75 626.83,527.85C628.94,527.96 631.04,527.75 633.15,527.47C635.25,527.20 637.36,526.63 639.46,526.21C641.57,525.79 643.67,525.37 645.77,524.95C647.88,524.53 649.98,524.11 652.09,523.69C654.19,523.26 656.09,522.74 658.40,522.42C660.72,522.11 664.72,521.90 665.98,521.79" stroke="#f00" stroke-width="1.45" fill="none"/>
<path d="M497.61,574.73L498.06,579.41L498.51,574.89L498.96,576.58L499.41,576.63L499.86,581.52L500.31,574.11L500.76,575.77L501.21,575.85L501.66,570.61L502.11,573.49L502.56,577.23L503.01,573.78L503.46,578.02L503.91,573.31L504.36,575.26L504.81,574.80L505.26,574.45L505.71,573.36L506.16,577.93L506.61,576.38L507.06,575.22L507.51,573.34L507.96,573.23L508.41,573.16L508.86,577.72L509.31,566.05L509.76,574.16L510.21,572.64L510.66,573.44L511.11,571.14L511.56,572.96L512.01,571.80L512.46,574.90L512.91,573.51L513.36,574.19L513.81,575.66L514.26,573.59L514.71,573.29L515.16,573.58L515.61,570.96L516.06,573.03L516.51,573.05L516.96,576.50L517.41,574.94L517.86,574.62L518.31,566.02L518.76,570.57L519.21,571.87L519.66,569.78L520.11,572.69L520.56,574.04L521.01,572.24L521.46,572.06L521.91,570.91L522.36,574.88L522.81,570.48L523.26,570.27L523.71,571.41L524.16,568.75L524.61,570.49L525.06,566.81L525.51,570.19L525.96,567.97L526.41,569.20L526.86,571.76L527.31,570.01L527.76,577.80L528.21,564.67L528.66,563.73L529.11,572.06L529.56,568.73L530.01,569.98L530.46,571.49L530.91,568.77L531.36,569.31L531.81,569.21L532.26,567.62L532.71,568.29L533.16,567.56L533.61,568.88L534.06,569.03L534.51,568.43L534.96,569.99L535.41,568.60L535.86,569.92L536.31,570.24L536.76,569.49L537.21,567.18L537.66,566.18L538.11,571.23L538.56,573.29L539.01,566.68L539.46,573.32L539.91,572.16L540.36,565.88L540.81,568.86L541.26,571.04L541.71,569.40L542.16,565.78L542.61,569.07L543.06,568.72L543.51,568.03L543.96,572.68L544.41,564.33L544.86,570.07L545.31,571.68L545.76,568.94L546.21,565.92L546.66,565.64L547.11,565.91L547.56,566.46L548.01,563.30L548.46,566.71L548.91,566.84L549.36,568.71L549.81,567.94L550.26,567.33L550.71,562.73L551.16,564.99L551.61,563.68L552.06,570.78L552.51,573.40L552.96,564.99L553.41,560.47L553.86,556.38L554.31,564.33L554.76,565.06L555.21,556.01L555.66,566.30L556.11,559.74L556.56,563.34L557.01,562.79L557.46,567.23L557.91,561.51L558.36,563.73L558.81,565.93L559.26,561.69L559.71,566.29L560.16,560.03L560.61,561.06L561.06,560.80L561.51,559.77L561.96,560.52L562.41,562.06L562.86,557.79L563.31,558.31L563.76,557.20L564.21,554.21L564.66,552.72L565.11,556.45L565.56,557.53L566.01,556.87L566.46,556.52L566.91,552.49L567.36,550.89L567.81,549.72L568.26,548.78L568.71,549.17L569.16,542.00L569.61,538.99L570.06,534.88L570.51,531.99L570.96,524.81L571.41,519.04L571.86,511.35L572.31,506.67L572.76,502.01L573.21,497.02L573.66,489.97L574.11,486.00L574.56,481.04L575.01,474.60L575.46,470.76L575.91,462.46L576.36,456.12L576.81,451.86L577.26,445.02L577.71,438.52L578.16,434.16L578.61,427.53L579.06,424.33L579.51,418.70L579.96,412.69L580.41,406.86L580.86,398.92L581.31,399.42L581.76,394.39L582.21,390.70L582.66,387.65L583.11,387.22L583.56,383.07L584.01,383.21L584.46,382.15L584.91,381.79L585.36,379.16L585.81,381.22L586.26,382.57L586.71,387.63L587.16,389.29L587.61,389.45L588.06,389.99L588.51,392.23L588.96,394.38L589.41,400.08L589.86,401.14L590.31,404.92L590.76,411.70L591.21,411.83L591.66,413.76L592.11,417.86L592.56,428.05L593.01,430.10L593.46,429.18L593.91,435.40L594.36,441.09L594.81,447.95L595.26,449.14L595.71,453.32L596.16,455.43L596.61,459.02L597.06,464.10L597.51,461.35L597.96,467.27L598.41,469.93L598.86,472.64L599.31,476.38L599.76,477.46L600.21,479.26L600.66,485.07L601.11,482.13L601.56,484.58L602.01,481.35L602.46,490.14L602.91,494.23L603.36,494.09L603.81,495.79L604.26,494.14L604.71,500.39L605.16,498.63L605.61,503.14L606.06,504.68L606.51,507.11L606.96,508.51L607.41,507.05L607.86,509.33L608.31,512.43L608.76,508.17L609.21,512.84L609.66,515.46L610.11,515.55L610.56,517.31L611.01,517.87L611.46,517.27L611.91,519.80L612.36,518.62L612.81,518.78L613.26,520.24L613.71,521.00L614.16,514.61L614.61,519.97L615.06,516.11L615.51,525.15L615.96,523.28L616.41,520.49L616.86,521.13L617.31,522.23L617.76,520.65L618.21,523.21L618.66,523.01L619.11,520.51L619.56,521.27L620.01,520.09L620.46,519.34L620.91,518.71L621.36,519.29L621.81,518.14L622.26,516.62L622.71,517.74L623.16,521.87L623.61,513.87L624.06,512.68L624.51,513.14L624.96,514.23L625.41,511.05L625.86,511.78L626.31,511.30L626.76,508.84L627.21,505.23L627.66,506.82L628.11,510.86L628.56,503.82L629.01,503.10L629.46,503.05L629.91,497.98L630.36,500.01L630.81,498.15L631.26,500.33L631.71,500.35L632.16,500.16L632.61,496.36L633.06,495.81L633.51,495.48L633.96,492.12L634.41,493.85L634.86,494.22L635.31,489.04L635.76,492.95L636.21,485.17L636.66,490.81L637.11,488.28L637.56,492.58L638.01,480.81L638.46,484.02L638.91,484.28L639.36,482.68L639.81,481.48L640.26,485.29L640.71,479.44L641.16,480.97L641.61,481.58L642.06,476.86L642.51,479.90L642.96,481.34L643.41,479.68L643.86,484.58L644.31,490.44L644.76,482.64L645.21,490.31L645.66,483.25L646.11,484.59L646.56,488.39L647.01,489.13L647.46,493.23L647.91,489.30L648.36,490.53L648.81,491.48L649.26,490.63L649.71,490.00L650.16,490.46L650.61,486.47L651.06,492.61L651.51,496.98L651.96,497.58L652.41,493.50L652.86,499.39L653.31,499.38L653.76,498.50L654.21,503.60L654.66,501.57L655.11,503.14L655.56,501.89L656.01,505.32L656.46,503.31L656.91,503.90L657.36,509.24L657.81,508.62L658.26,507.04L658.71,503.86L659.16,508.67L659.61,506.24L660.06,514.60L660.51,512.06L660.96,511.39L661.41,506.52L661.86,514.12L662.31,517.74L662.76,511.92L663.21,512.26L663.66,518.12L664.11,513.26L664.56,514.56L665.01,515.56L665.46,516.98L665.91,520.42L666.36,516.75L666.81,517.85L667.26,518.42L667.71,510.96L668.16,519.50L668.61,518.31L669.06,520.04L669.51,515.92L669.96,518.57L670.41,523.09L670.86,520.73L671.31,522.95L671.76,524.74L672.21,523.57L672.66,521.91L673.11,527.86L673.56,524.14L674.01,525.79L674.46,522.69L674.91,526.98L675.36,519.69L675.81,522.62L676.26,525.76L676.71,530.16L677.16,531.41L677.61,529.58L678.06,526.33L678.51,528.29L678.96,525.79L679.41,527.12L679.86,528.24L680.31,531.08L680.76,530.32L681.21,531.02L681.66,531.47L682.11,528.67L682.56,529.88L683.01,531.27L683.46,532.12L683.91,527.12L684.36,531.03L684.81,532.82L685.26,529.88L685.71,534.91L686.16,530.92L686.61,533.73L687.06,531.64L687.51,525.42L687.96,533.29L688.41,534.76L688.86,531.55L689.31,537.56L689.76,533.89L690.21,532.41L690.66,530.41L691.11,531.84L691.56,532.28L692.01,534.87L692.46,536.31L692.91,533.51L693.36,534.63L693.81,533.44L694.26,533.40L694.71,533.98L695.16,534.08L695.61,534.70L696.06,535.44L696.51,534.10L696.96,534.07L697.41,535.07L697.86,531.76L698.31,535.88L698.76,535.24L699.21,533.88L699.66,539.27L700.11,534.45L700.56,533.15L701.01,530.26L701.46,535.89L701.91,533.76L702.36,534.84L702.81,535.19L703.26,533.83L703.71,536.29L704.16,536.43L704.61,535.39L705.06,536.02L705.51,537.29L705.96,538.96L706.41,536.64L706.86,541.30L707.31,537.22L707.76,536.01L708.21,537.07L708.66,536.02L709.11,536.54L709.56,536.22L710.01,539.74L710.46,537.35L710.91,536.44L711.36,538.78L711.81,537.02L712.26,534.11L712.71,534.33L713.16,537.99L713.61,536.24L714.06,536.68L714.51,537.38L714.96,536.21L715.41,535.31L715.86,540.20L716.31,539.89L716.76,536.91L717.21,538.46L717.66,536.69L718.11,538.59L718.56,536.76L719.01,536.37L719.46,535.68L719.91,537.13L720.36,534.22L720.81,529.19L721.26,526.03L721.71,527.49L722.16,531.16L722.61,520.56L723.06,522.21L723.51,521.66L723.96,522.60L724.41,521.82L724.86,517.36L725.31,516.75L725.76,515.22L726.21,513.05L726.66,512.15L727.11,511.06L727.56,508.43L728.01,510.27L728.46,506.05L728.91,504.47L729.36,502.05L729.81,499.37L730.26,499.54L730.71,497.81L731.16,494.49L731.61,492.38L732.06,486.10L732.51,491.75L732.96,484.19L733.41,481.64L733.86,475.59L734.31,470.82L734.76,471.16L735.21,470.07L735.66,472.37L736.11,467.45L736.56,467.81L737.01,468.49L737.46,466.12L737.91,465.03L738.36,463.60L738.81,464.14L739.26,462.43L739.71,459.86L740.16,463.40L740.61,457.37L741.06,458.61L741.51,456.52L741.96,457.37L742.41,458.85L742.86,459.97L743.31,457.17L743.76,458.57L744.21,458.68L744.66,463.58L745.11,459.88L745.56,461.50L746.01,460.43L746.46,465.53L746.91,463.94L747.36,462.79L747.81,465.15L748.26,468.89L748.71,469.28L749.16,468.96L749.61,471.88L750.06,471.76L750.51,474.71L750.96,479.70L751.41,476.42L751.86,480.88L752.31,477.40L752.76,478.47L753.21,480.61L753.66,478.60L754.11,481.23L754.56,483.46L755.01,484.75L755.46,480.23L755.91,485.52L756.36,489.44L756.81,490.59L757.26,493.61L757.71,486.95L758.16,495.25L758.61,492.99L759.06,495.58L759.51,498.59L759.96,497.62L760.41,497.21L760.86,497.59L761.31,499.92L761.76,499.44L762.21,501.47L762.66,496.89L763.11,501.77L763.56,498.92L764.01,500.40L764.46,501.03L764.91,508.13L765.36,504.24L765.81,501.42L766.26,505.32L766.71,503.86L767.16,499.71L767.61,501.35L768.06,503.97L768.51,503.01L768.96,503.56L769.41,504.25L769.86,500.82L770.31,506.86L770.76,502.02L771.21,504.64L771.66,500.79L772.11,502.58L772.56,500.33L773.01,501.22L773.46,500.65L773.91,503.45L774.36,500.11L774.81,500.59L775.26,502.41L775.71,500.24L776.16,498.63L776.61,498.15L777.06,501.61L777.51,498.89L777.96,503.12L778.41,501.11L778.86,500.98L779.31,499.14L779.76,498.88L780.21,498.95L780.66,500.13L781.11,498.66L781.56,504.01L782.01,497.58L782.46,500.19L782.91,499.47L783.36,497.23L783.81,494.15L784.26,497.55L784.71,491.70L785.16,494.33L785.61,496.73L786.06,497.40L786.51,494.04L786.96,492.84L787.41,492.19L787.86,493.45L788.31,492.97L788.76,496.81L789.21,488.31L789.66,489.59L790.11,486.68L790.56,483.41L791.01,486.41L791.46,486.50L791.91,485.90L792.36,478.92L792.81,483.17L793.26,484.30L793.71,482.18L794.16,484.98L794.61,484.49L795.06,479.57L795.51,480.03L795.96,487.25L796.41,480.22L796.86,484.88L797.31,479.82L797.76,479.71L798.21,479.02L798.66,480.00L799.11,483.46L799.56,481.35L800.01,484.86L800.46,485.02L800.91,481.40L801.36,476.65L801.81,484.56L802.26,474.20L802.71,483.09L803.16,476.98L803.61,476.36L804.06,480.17L804.51,478.01L804.96,480.34L805.41,482.68L805.86,481.19L806.31,478.83L806.76,482.76L807.21,478.67L807.66,481.73L808.11,483.00L808.56,482.16L809.01,479.67L809.46,481.03L809.91,481.01L810.36,482.51L810.81,484.99L811.26,486.02L811.71,482.35L812.16,484.64L812.61,479.67L813.06,487.35L813.51,484.12L813.96,484.88L814.41,487.18L814.86,483.73L815.31,480.16L815.76,481.88L816.21,483.70L816.66,483.71L817.11,485.33L817.56,483.60L818.01,485.04L818.46,480.59L818.91,484.27L819.36,481.73L819.81,484.76L820.26,486.44L820.71,483.16L821.16,487.01L821.61,483.90L822.06,483.92L822.51,484.90L822.96,486.20L823.41,494.52L823.86,485.17L824.31,490.23L824.76,489.01L825.21,490.93L825.66,490.44L826.11,492.96L826.56,492.02L827.01,493.61L827.46,493.22L827.91,492.02L828.36,490.91L828.81,495.30L829.26,494.08L829.71,494.45L830.16,497.12L830.61,495.31L831.06,493.15L831.51,495.09L831.96,495.78L832.41,496.43L832.86,495.96L833.31,497.26L833.76,496.78L834.21,497.80L834.66,496.18L835.11,497.84L835.56,498.79L836.01,497.73L836.46,497.00L836.91,499.50L837.36,500.92L837.81,497.46L838.26,501.34L838.71,498.49L839.16,499.59L839.61,500.08L840.06,502.40L840.51,501.20L840.96,502.92L841.41,502.07L841.86,502.39L842.31,503.18L842.76,501.30L843.21,500.07L843.66,499.04L844.11,500.04L844.56,503.50L845.01,498.95L845.46,501.17L845.91,503.86L846.36,503.03L846.81,496.56L847.26,501.86L847.71,508.20L848.16,504.55" stroke="#000" stroke-width="1.55" fill="none" stroke-linejoin="round"/>
<path d="M497.00,577.81C500.06,577.59 509.26,577.04 515.39,576.47C521.51,575.89 528.66,575.14 533.77,574.38C538.88,573.63 542.56,572.85 546.03,571.93C549.50,571.01 552.16,570.09 554.61,568.87C557.06,567.64 559.00,566.11 560.74,564.58C562.47,563.04 563.80,561.51 565.03,559.67C566.25,557.83 567.17,555.79 568.09,553.54C569.01,551.30 569.83,549.05 570.54,546.19C571.26,543.33 571.77,539.86 572.38,536.38C573.00,532.91 573.61,529.64 574.22,525.35C574.83,521.06 575.45,515.55 576.06,510.64C576.67,505.74 577.29,500.43 577.90,495.93C578.51,491.44 578.25,496.37 579.74,483.68C581.23,470.98 585.42,431.33 586.83,419.75C588.24,408.18 587.75,414.85 588.21,414.24C588.67,413.63 589.13,414.70 589.59,416.08C590.05,417.46 590.51,420.06 590.97,422.51C591.42,424.96 591.88,427.88 592.34,430.79C592.80,433.70 593.76,439.67 593.72,439.98C593.68,440.29 592.06,431.75 592.10,432.63C592.15,433.51 593.36,441.05 594.00,445.26C594.63,449.47 595.26,453.68 595.89,457.89C596.52,462.10 597.15,466.73 597.78,470.52C598.42,474.31 599.05,477.25 599.68,480.62C600.31,483.99 600.84,487.36 601.57,490.72C602.31,494.09 603.15,497.46 604.10,500.83C605.05,504.19 606.10,507.77 607.26,510.93C608.41,514.09 609.68,517.46 611.04,519.77C612.41,522.09 613.89,523.56 615.46,524.82C617.04,526.08 618.62,526.76 620.52,527.35C622.41,527.94 624.73,528.25 626.83,528.36C628.94,528.46 631.04,528.25 633.15,527.98C635.25,527.71 637.36,527.14 639.46,526.72C641.57,526.30 643.67,525.87 645.77,525.45C647.88,525.03 649.98,524.61 652.09,524.19C654.19,523.77 656.09,523.24 658.40,522.93C660.72,522.61 663.46,522.40 665.98,522.30C668.51,522.19 671.22,522.25 673.56,522.30C675.90,522.34 678.38,522.34 680.00,522.55C681.62,522.76 680.52,523.23 683.28,523.58C686.04,523.92 692.13,524.24 696.56,524.64C700.98,525.04 705.85,525.63 709.84,525.97C713.82,526.30 717.58,526.63 720.46,526.63C723.34,526.63 724.89,526.53 727.10,525.98C729.31,525.43 731.53,524.32 733.74,523.33C735.95,522.33 738.16,521.11 740.38,520.01C742.59,518.90 744.80,517.57 747.02,516.69C749.23,515.80 751.44,515.25 753.66,514.69C755.87,514.14 757.86,513.70 760.30,513.37C762.73,513.03 766.65,512.78 768.26,512.70C769.88,512.63 767.67,513.18 770.00,512.91C772.33,512.63 778.17,511.78 782.26,511.07C786.34,510.35 790.43,509.43 794.51,508.62C798.60,507.80 802.69,506.92 806.77,506.16C810.86,505.41 814.94,504.69 819.03,504.08C823.12,503.47 827.20,502.86 831.29,502.49C835.37,502.12 840.48,502.02 843.54,501.87C846.61,501.73 848.65,501.67 849.67,501.63" stroke="#f0f" stroke-width="1.45" fill="none"/>
<path d="M497.00,579.28C501.09,579.08 515.39,578.37 521.51,578.06C527.64,577.75 529.67,577.74 533.77,577.45C537.87,577.15 542.73,576.61 546.10,576.30C549.47,575.99 551.32,575.90 554.00,575.60C556.68,575.30 559.23,575.08 562.20,574.50C565.17,573.92 569.13,573.43 571.80,572.10C574.47,570.77 576.05,568.92 578.20,566.50C580.35,564.08 582.55,560.55 584.70,557.60C586.85,554.65 588.97,551.35 591.10,548.80C593.23,546.25 595.35,543.92 597.50,542.30C599.65,540.68 601.85,539.93 604.00,539.10C606.15,538.27 607.65,537.95 610.40,537.30C613.15,536.65 617.36,535.99 620.52,535.23C623.68,534.46 626.41,533.65 629.36,532.70C632.30,531.75 635.46,530.49 638.20,529.54C640.93,528.60 643.25,527.71 645.77,527.02C648.30,526.32 650.83,525.80 653.35,525.37C655.88,524.95 657.98,524.68 660.93,524.49C663.88,524.30 667.31,524.23 671.03,524.24C674.76,524.25 679.02,524.38 683.28,524.54C687.53,524.70 692.13,524.87 696.56,525.20C700.98,525.53 705.85,526.20 709.84,526.53C713.82,526.86 717.58,527.19 720.46,527.19C723.34,527.19 724.89,527.08 727.10,526.53C729.31,525.98 731.53,524.87 733.74,523.88C735.95,522.88 738.16,521.66 740.38,520.56C742.59,519.45 744.80,518.12 747.02,517.24C749.23,516.35 751.44,515.80 753.66,515.24C755.87,514.69 757.86,514.25 760.30,513.92C762.73,513.58 766.65,513.33 768.26,513.25C769.88,513.18 767.67,513.73 770.00,513.46C772.33,513.18 778.17,512.33 782.26,511.62C786.34,510.90 790.43,509.98 794.51,509.17C798.60,508.35 802.69,507.47 806.77,506.71C810.86,505.96 814.94,505.24 819.03,504.63C823.12,504.02 827.20,503.41 831.29,503.04C835.37,502.67 840.48,502.57 843.54,502.42C846.61,502.28 848.65,502.22 849.67,502.18" stroke="#00f" stroke-width="1.45" fill="none"/>
<path d="M497.00,578.67C501.09,578.47 514.36,577.85 521.51,577.45C528.66,577.04 534.79,576.73 539.90,576.22C545.01,575.71 548.69,575.30 552.16,574.38C555.63,573.46 558.49,571.93 560.74,570.70C562.99,569.48 564.21,568.66 565.64,567.03C567.07,565.39 568.30,563.35 569.32,560.90C570.34,558.45 571.06,555.59 571.77,552.32C572.49,549.05 573.04,545.17 573.61,541.29C574.18,537.41 574.69,533.32 575.20,529.03C575.71,524.74 576.22,519.63 576.67,515.55C577.12,511.46 577.49,507.99 577.90,504.51C578.31,501.04 578.76,497.16 579.12,494.71C579.49,492.26 579.74,490.42 580.11,489.81C580.47,489.19 580.92,489.60 581.33,491.03C581.74,492.46 582.11,495.53 582.56,498.39C583.01,501.25 583.54,504.72 584.03,508.19C584.52,511.66 584.99,515.96 585.50,519.22C586.01,522.49 586.52,525.35 587.09,527.80C587.66,530.26 588.22,532.46 588.93,533.93C589.65,535.40 590.36,536.02 591.38,536.63C592.40,537.24 593.15,537.47 595.06,537.61C596.97,537.75 600.07,537.58 602.84,537.45C605.61,537.32 608.73,537.24 611.68,536.82C614.62,536.40 617.57,535.66 620.52,534.93C623.46,534.19 626.41,533.35 629.36,532.40C632.30,531.45 635.46,530.19 638.20,529.24C640.93,528.30 643.25,527.41 645.77,526.72C648.30,526.02 650.83,525.50 653.35,525.07C655.88,524.65 657.98,524.38 660.93,524.19C663.88,524.00 667.31,523.93 671.03,523.94C674.76,523.95 679.02,524.08 683.28,524.24C687.53,524.40 692.13,524.57 696.56,524.90C700.98,525.23 705.85,525.90 709.84,526.23C713.82,526.56 717.58,526.89 720.46,526.89C723.34,526.89 724.89,526.78 727.10,526.23C729.31,525.68 731.53,524.57 733.74,523.58C735.95,522.58 738.16,521.36 740.38,520.26C742.59,519.15 744.80,517.82 747.02,516.94C749.23,516.05 751.44,515.50 753.66,514.94C755.87,514.39 757.86,513.95 760.30,513.62C762.73,513.28 766.65,513.03 768.26,512.95C769.88,512.88 767.67,513.43 770.00,513.16C772.33,512.88 778.17,512.03 782.26,511.32C786.34,510.60 790.43,509.68 794.51,508.87C798.60,508.05 802.69,507.17 806.77,506.41C810.86,505.66 814.94,504.94 819.03,504.33C823.12,503.72 827.20,503.11 831.29,502.74C835.37,502.37 840.48,502.27 843.54,502.12C846.61,501.98 848.65,501.92 849.67,501.88" stroke="#0ff" stroke-width="1.45" fill="none"/>
<text x="565.0" y="375.6" font-size="11" text-anchor="start" font-weight="normal" >2p3/2</text>
<text x="606.3" y="427.6" font-size="11" text-anchor="start" font-weight="normal" >76.1%</text>
<text x="535.0" y="486.1" font-size="11" text-anchor="start" font-weight="normal" >23.9%</text>
<text x="721.1" y="449.9" font-size="11" text-anchor="start" font-weight="normal" >2p1/2</text>
<text x="610.8" y="448.0" font-size="11">Ni<tspan font-size="6.5" dy="-4.5">3+</tspan></text>
<text x="541.7" y="504.5" font-size="11">Ni<tspan font-size="6.5" dy="-4.5">2+</tspan></text>
<path d="M609.8,452.8L595.8,468.8" stroke="#333" stroke-width="0.8" fill="none"/>
<path d="M591.5,473.7L593.8,467.1L594.8,469.9L597.7,470.5Z" fill="#000"/>
<path d="M556.4,505.7L575.0,523.3" stroke="#333" stroke-width="0.8" fill="none"/>
<path d="M579.7,527.8L573.2,525.2L576.1,524.4L576.8,521.4Z" fill="#000"/>
<path d="M298.37,894.73L298.82,898.69L299.27,896.34L299.72,901.33L300.17,896.79L300.62,894.09L301.07,896.35L301.52,899.32L301.97,898.74L302.42,897.18L302.87,895.22L303.32,896.98L303.77,893.44L304.22,896.40L304.67,894.05L305.12,898.10L305.57,897.43L306.02,895.94L306.47,896.85L306.92,898.47L307.37,899.20L307.82,897.65L308.27,898.11L308.72,896.77L309.17,897.91L309.62,892.49L310.07,899.95L310.52,895.26L310.97,895.11L311.42,896.62L311.87,897.22L312.32,889.93L312.77,896.51L313.22,895.73L313.67,897.55L314.12,900.63L314.57,900.43L315.02,899.00L315.47,894.76L315.92,899.60L316.37,904.15L316.82,895.67L317.27,896.66L317.72,896.70L318.17,898.14L318.62,899.65L319.07,898.67L319.52,897.61L319.97,896.15L320.42,899.91L320.87,896.09L321.32,895.13L321.77,895.10L322.22,893.78L322.67,897.67L323.12,895.89L323.57,893.46L324.02,893.85L324.47,888.72L324.92,896.85L325.37,895.22L325.82,893.50L326.27,896.58L326.72,895.24L327.17,896.41L327.62,895.40L328.07,890.30L328.52,891.12L328.97,894.96L329.42,896.04L329.87,894.64L330.32,896.51L330.77,894.46L331.22,894.75L331.67,894.41L332.12,894.37L332.57,894.76L333.02,892.77L333.47,891.68L333.92,895.83L334.37,892.92L334.82,893.01L335.27,895.84L335.72,893.04L336.17,889.74L336.62,893.34L337.07,894.73L337.52,895.45L337.97,893.33L338.42,893.48L338.87,892.24L339.32,892.26L339.77,893.58L340.22,893.44L340.67,896.64L341.12,893.98L341.57,893.91L342.02,891.30L342.47,893.80L342.92,891.12L343.37,896.07L343.82,892.07L344.27,892.86L344.72,892.29L345.17,888.93L345.62,890.45L346.07,891.21L346.52,893.65L346.97,893.71L347.42,892.23L347.87,890.73L348.32,895.86L348.77,896.19L349.22,893.64L349.67,888.48L350.12,887.61L350.57,888.23L351.02,889.17L351.47,890.32L351.92,890.36L352.37,892.08L352.82,891.89L353.27,885.77L353.72,891.90L354.17,887.84L354.62,890.90L355.07,891.97L355.52,886.98L355.97,888.28L356.42,889.66L356.87,888.53L357.32,887.48L357.77,885.78L358.22,884.85L358.67,887.31L359.12,885.57L359.57,887.46L360.02,884.86L360.47,883.82L360.92,885.57L361.37,882.86L361.82,880.99L362.27,884.61L362.72,888.88L363.17,883.95L363.62,880.81L364.07,880.95L364.52,885.05L364.97,880.64L365.42,879.72L365.87,876.58L366.32,875.91L366.77,873.95L367.22,873.47L367.67,872.02L368.12,870.40L368.57,864.91L369.02,864.90L369.47,860.80L369.92,858.68L370.37,855.28L370.82,851.45L371.27,843.67L371.72,842.59L372.17,837.85L372.62,831.36L373.07,823.69L373.52,817.75L373.97,812.42L374.42,807.72L374.87,801.40L375.32,790.35L375.77,785.89L376.22,774.86L376.67,769.78L377.12,759.78L377.57,753.15L378.02,747.39L378.47,739.84L378.92,729.30L379.37,727.71L379.82,719.99L380.27,717.12L380.72,708.86L381.17,703.85L381.62,697.17L382.07,697.55L382.52,691.45L382.97,691.96L383.42,690.82L383.87,689.96L384.32,687.51L384.77,683.75L385.22,685.46L385.67,685.21L386.12,686.78L386.57,688.08L387.02,688.14L387.47,689.69L387.92,694.03L388.37,693.82L388.82,697.28L389.27,701.45L389.72,704.94L390.17,709.38L390.62,711.99L391.07,714.21L391.52,719.15L391.97,724.44L392.42,729.21L392.87,731.34L393.32,739.51L393.77,742.24L394.22,741.21L394.67,743.94L395.12,743.61L395.57,744.28L396.02,749.10L396.47,750.46L396.92,750.97L397.37,750.12L397.82,752.90L398.27,755.76L398.72,757.69L399.17,759.28L399.62,762.05L400.07,762.84L400.52,770.30L400.97,774.12L401.42,772.82L401.87,779.74L402.32,781.57L402.77,782.79L403.22,786.98L403.67,790.26L404.12,789.86L404.57,797.48L405.02,798.32L405.47,805.24L405.92,806.98L406.37,811.20L406.82,809.90L407.27,815.53L407.72,816.32L408.17,815.66L408.62,820.47L409.07,822.77L409.52,824.08L409.97,825.78L410.42,826.22L410.87,828.05L411.32,830.29L411.77,833.46L412.22,828.24L412.67,833.72L413.12,831.33L413.57,836.66L414.02,835.79L414.47,827.76L414.92,834.63L415.37,837.96L415.82,841.74L416.27,842.48L416.72,840.93L417.17,839.79L417.62,838.86L418.07,839.42L418.52,846.31L418.97,839.39L419.42,839.60L419.87,836.83L420.32,837.94L420.77,838.43L421.22,837.08L421.67,834.98L422.12,838.76L422.57,835.62L423.02,836.32L423.47,829.86L423.92,833.22L424.37,832.42L424.82,834.45L425.27,831.91L425.72,831.01L426.17,826.69L426.62,824.00L427.07,826.81L427.52,822.09L427.97,827.11L428.42,830.37L428.87,824.25L429.32,822.34L429.77,816.13L430.22,821.02L430.67,822.84L431.12,819.69L431.57,823.44L432.02,818.18L432.47,814.94L432.92,812.00L433.37,812.33L433.82,811.76L434.27,808.18L434.72,803.37L435.17,802.85L435.62,800.81L436.07,799.41L436.52,801.72L436.97,794.25L437.42,796.75L437.87,798.38L438.32,795.66L438.77,797.46L439.22,794.31L439.67,798.99L440.12,793.87L440.57,791.69L441.02,794.92L441.47,798.97L441.92,792.83L442.37,792.18L442.82,793.76L443.27,790.36L443.72,791.53L444.17,791.59L444.62,792.52L445.07,791.02L445.52,792.81L445.97,790.79L446.42,793.87L446.87,793.82L447.32,797.77L447.77,799.42L448.22,800.39L448.67,799.90L449.12,793.61L449.57,802.40L450.02,803.76L450.47,810.48L450.92,807.48L451.37,809.54L451.82,810.58L452.27,812.40L452.72,810.85L453.17,815.33L453.62,813.77L454.07,816.13L454.52,821.57L454.97,820.37L455.42,826.03L455.87,822.23L456.32,820.84L456.77,822.38L457.22,819.38L457.67,825.45L458.12,823.20L458.57,823.42L459.02,829.68L459.47,823.56L459.92,825.31L460.37,823.64L460.82,823.42L461.27,824.15L461.72,824.00L462.17,825.37L462.62,824.97L463.07,822.57L463.52,824.33L463.97,826.26L464.42,827.14L464.87,826.67L465.32,829.12L465.77,827.00L466.22,832.24L466.67,829.50L467.12,830.25L467.57,830.49L468.02,831.80L468.47,833.11L468.92,832.30L469.37,834.69L469.82,836.67L470.27,832.66L470.72,836.35L471.17,837.53L471.62,842.68L472.07,838.15L472.52,836.11L472.97,842.75L473.42,841.88L473.87,842.26L474.32,838.18L474.77,843.54L475.22,843.87L475.67,846.97L476.12,844.44L476.57,845.71L477.02,847.00L477.47,845.79L477.92,846.21L478.37,845.75L478.82,845.89L479.27,846.53L479.72,845.43L480.17,845.21L480.62,847.42L481.07,847.12L481.52,847.28L481.97,846.46L482.42,846.21L482.87,848.68L483.32,847.37L483.77,845.00L484.22,848.73L484.67,851.25L485.12,847.28L485.57,848.27L486.02,848.76L486.47,846.75L486.92,849.28L487.37,849.49L487.82,846.97L488.27,852.92L488.72,847.77L489.17,851.11L489.62,849.15L490.07,849.34L490.52,844.80L490.97,850.43L491.42,849.56L491.87,852.49L492.32,848.49L492.77,846.87L493.22,853.13L493.67,849.38L494.12,852.62L494.57,852.03L495.02,855.82L495.47,849.44L495.92,852.95L496.37,853.45L496.82,851.60L497.27,855.58L497.72,852.02L498.17,852.15L498.62,852.50L499.07,851.46L499.52,850.96L499.97,854.37L500.42,853.93L500.87,857.89L501.32,852.01L501.77,853.21L502.22,853.81L502.67,850.12L503.12,852.77L503.57,855.83L504.02,853.30L504.47,853.85L504.92,854.92L505.37,849.87L505.82,851.85L506.27,855.36L506.72,857.14L507.17,848.54L507.62,857.82L508.07,857.12L508.52,856.22L508.97,856.64L509.42,857.53L509.87,853.02L510.32,856.80L510.77,858.17L511.22,857.59L511.67,862.73L512.12,860.22L512.57,860.30L513.02,860.43L513.47,858.76L513.92,856.41L514.37,858.03L514.82,858.39L515.27,853.94L515.72,850.72L516.17,856.66L516.62,855.07L517.07,856.71L517.52,851.86L517.97,858.86L518.42,852.07L518.87,847.42L519.32,853.84L519.77,851.33L520.22,856.47L520.67,857.45L521.12,856.94L521.57,853.14L522.02,850.77L522.47,853.31L522.92,854.53L523.37,852.53L523.82,850.49L524.27,856.10L524.72,845.46L525.17,840.20L525.62,837.69L526.07,838.20L526.52,841.17L526.97,836.82L527.42,840.03L527.87,828.60L528.32,828.91L528.77,823.25L529.22,827.89L529.67,828.85L530.12,817.55L530.57,817.50L531.02,816.31L531.47,811.40L531.92,809.32L532.37,802.67L532.82,803.50L533.27,801.59L533.72,799.44L534.17,799.77L534.62,794.59L535.07,800.90L535.52,790.56L535.97,793.21L536.42,787.13L536.87,782.04L537.32,773.24L537.77,780.50L538.22,778.41L538.67,774.41L539.12,776.29L539.57,778.25L540.02,782.41L540.47,775.00L540.92,774.88L541.37,775.10L541.82,771.58L542.27,770.84L542.72,772.05L543.17,770.26L543.62,770.38L544.07,767.80L544.52,768.63L544.97,767.40L545.42,765.08L545.87,766.08L546.32,767.76L546.77,764.48L547.22,768.92L547.67,769.75L548.12,772.27L548.57,773.83L549.02,776.36L549.47,775.27L549.92,775.49L550.37,781.19L550.82,782.16L551.27,780.90L551.72,780.16L552.17,789.31L552.62,785.57L553.07,787.76L553.52,791.37L553.97,793.43L554.42,787.64L554.87,794.23L555.32,796.79L555.77,793.57L556.22,800.28L556.67,798.93L557.12,801.95L557.57,800.79L558.02,801.96L558.47,804.84L558.92,809.16L559.37,806.65L559.82,812.85L560.27,809.75L560.72,808.56L561.17,810.94L561.62,811.88L562.07,813.64L562.52,814.75L562.97,809.81L563.42,813.71L563.87,815.41L564.32,815.00L564.77,818.76L565.22,820.46L565.67,816.62L566.12,814.42L566.57,820.27L567.02,819.62L567.47,818.18L567.92,816.34L568.37,823.14L568.82,817.69L569.27,818.03L569.72,811.69L570.17,821.76L570.62,823.10L571.07,821.88L571.52,819.49L571.97,816.12L572.42,817.39L572.87,821.59L573.32,823.41L573.77,822.83L574.22,821.61L574.67,817.71L575.12,818.39L575.57,820.85L576.02,818.15L576.47,822.25L576.92,817.16L577.37,817.52L577.82,820.63L578.27,820.52L578.72,820.11L579.17,818.40L579.62,817.66L580.07,815.55L580.52,817.64L580.97,811.13L581.42,814.41L581.87,814.42L582.32,813.56L582.77,813.12L583.22,816.50L583.67,814.50L584.12,812.51L584.57,814.86L585.02,806.69L585.47,811.38L585.92,811.77L586.37,813.46L586.82,811.05L587.27,810.56L587.72,809.43L588.17,812.90L588.62,807.12L589.07,804.72L589.52,804.04L589.97,804.77L590.42,803.61L590.87,804.06L591.32,804.01L591.77,802.00L592.22,798.84L592.67,801.08L593.12,800.02L593.57,799.11L594.02,796.20L594.47,804.20L594.92,799.87L595.37,801.23L595.82,797.06L596.27,800.87L596.72,799.83L597.17,799.03L597.62,792.46L598.07,794.96L598.52,793.54L598.97,794.61L599.42,794.55L599.87,795.42L600.32,789.14L600.77,791.84L601.22,792.98L601.67,794.04L602.12,794.73L602.57,791.24L603.02,792.88L603.47,795.23L603.92,794.35L604.37,794.55L604.82,793.75L605.27,795.78L605.72,794.69L606.17,797.96L606.62,799.00L607.07,800.84L607.52,794.27L607.97,796.83L608.42,796.02L608.87,794.92L609.32,793.19L609.77,791.96L610.22,793.30L610.67,790.04L611.12,792.08L611.57,790.92L612.02,796.56L612.47,786.03L612.92,794.27L613.37,792.68L613.82,796.31L614.27,794.62L614.72,795.61L615.17,794.08L615.62,796.60L616.07,794.75L616.52,789.79L616.97,793.51L617.42,792.81L617.87,790.65L618.32,798.95L618.77,795.29L619.22,798.68L619.67,801.90L620.12,801.59L620.57,800.61L621.02,799.47L621.47,802.95L621.92,802.20L622.37,797.82L622.82,806.98L623.27,810.19L623.72,801.27L624.17,804.71L624.62,800.17L625.07,803.16L625.52,803.01L625.97,799.53L626.42,802.04L626.87,807.85L627.32,804.01L627.77,809.80L628.22,804.94L628.67,805.16L629.12,805.79L629.57,803.28L630.02,799.70L630.47,801.96L630.92,805.73L631.37,803.35L631.82,807.52L632.27,810.89L632.72,811.18L633.17,811.67L633.62,812.82L634.07,805.82L634.52,811.44L634.97,803.10L635.42,818.86L635.87,813.03L636.32,814.28L636.77,810.93L637.22,810.70L637.67,815.61L638.12,811.77L638.57,814.29L639.02,810.24L639.47,810.66L639.92,814.19L640.37,815.37L640.82,813.78L641.27,814.64L641.72,817.40L642.17,821.00L642.62,811.73L643.07,817.34L643.52,815.76L643.97,816.93L644.42,815.23L644.87,818.63L645.32,821.41L645.77,816.37L646.22,815.22L646.67,816.80L647.12,818.37L647.57,819.33L648.02,816.97L648.47,819.95L648.92,818.94L649.37,819.76L649.82,823.60L650.27,814.52L650.72,812.74L651.17,815.43L651.62,815.69L652.07,817.65L652.52,814.28L652.97,815.85" stroke="#000" stroke-width="1.5" fill="none" stroke-linejoin="round"/>
<path d="M298.00,904.19C300.04,903.98 306.17,903.47 310.26,902.96C314.34,902.45 318.43,901.84 322.51,901.12C326.60,900.41 330.69,899.59 334.77,898.67C338.86,897.75 343.97,896.63 347.03,895.61C350.09,894.59 351.12,893.87 353.16,892.54C355.20,891.22 357.45,889.58 359.29,887.64C361.13,885.70 362.76,883.66 364.19,880.90C365.62,878.14 366.85,875.18 367.87,871.09C368.89,867.01 369.71,860.88 370.32,856.38C370.93,851.89 371.14,848.21 371.54,844.13C371.95,840.04 372.36,836.36 372.77,831.87C373.18,827.37 373.63,821.45 374.00,817.16C374.36,812.87 374.13,820.46 374.98,806.13C375.82,791.80 378.20,746.13 379.07,731.19C379.94,716.25 379.79,721.08 380.17,716.48C380.56,711.88 380.94,706.98 381.37,703.61C381.80,700.24 382.29,698.02 382.75,696.26C383.21,694.49 383.59,693.88 384.13,693.04C384.66,692.20 385.43,691.28 385.97,691.20C386.50,691.12 386.88,691.43 387.34,692.58C387.80,693.73 388.26,695.80 388.72,698.09C389.18,700.39 389.64,703.30 390.10,706.37C390.56,709.43 391.02,712.96 391.48,716.48C391.94,720.01 392.40,723.53 392.86,727.51C393.32,731.50 393.96,737.93 394.24,740.38C394.51,742.84 394.09,739.39 394.51,742.26C394.94,745.12 396.05,752.47 396.81,757.58C397.58,762.69 398.35,767.79 399.11,772.90C399.88,778.01 400.64,783.37 401.41,788.22C402.18,793.07 402.81,797.42 403.71,802.01C404.60,806.61 405.75,811.72 406.77,815.80C407.79,819.89 408.69,823.46 409.84,826.53C410.99,829.59 412.13,832.02 413.67,834.19C415.20,836.36 417.11,838.32 419.03,839.55C420.94,840.78 423.12,841.21 425.16,841.54C427.20,841.87 428.99,841.87 431.29,841.54C433.59,841.21 436.39,840.27 438.95,839.55C441.50,838.84 444.06,837.89 446.61,837.25C449.16,836.61 451.21,836.03 454.27,835.72C457.33,835.41 461.68,835.46 464.99,835.41C468.31,835.36 472.66,835.41 474.19,835.41" stroke="#f00" stroke-width="1.45" fill="none"/>
<path d="M298.00,904.80C301.06,904.54 310.26,903.92 316.39,903.21C322.51,902.49 329.66,901.47 334.77,900.51C339.88,899.55 343.76,898.57 347.03,897.45C350.30,896.32 352.14,895.30 354.38,893.77C356.63,892.24 358.67,890.40 360.51,888.25C362.35,886.11 363.99,883.76 365.42,880.90C366.85,878.04 368.07,874.77 369.09,871.09C370.11,867.42 370.83,862.92 371.54,858.84C372.26,854.75 372.81,850.66 373.38,846.58C373.96,842.49 374.47,838.41 374.98,834.32C375.49,830.23 375.96,826.15 376.45,822.06C376.94,817.98 376.64,822.50 377.92,809.81C379.20,797.11 382.91,758.08 384.13,745.90C385.35,733.72 384.85,739.92 385.23,736.71C385.61,733.49 386.03,729.66 386.42,726.59C386.82,723.53 387.27,720.31 387.62,718.32C387.97,716.33 388.20,714.95 388.54,714.64C388.88,714.34 389.27,715.10 389.64,716.48C390.01,717.86 390.36,720.16 390.75,722.92C391.13,725.67 391.54,729.66 391.94,733.03C392.34,736.40 392.32,739.05 393.14,743.14C393.95,747.23 395.82,752.62 396.81,757.58C397.81,762.54 398.35,767.79 399.11,772.90C399.88,778.01 400.64,783.32 401.41,788.22C402.18,793.13 402.81,797.67 403.71,802.32C404.60,806.97 405.75,812.02 406.77,816.11C407.79,820.19 408.69,823.72 409.84,826.83C410.99,829.95 412.13,832.55 413.67,834.80C415.20,837.05 417.11,839.12 419.03,840.32C420.94,841.52 423.12,841.70 425.16,842.00C427.20,842.31 428.99,842.44 431.29,842.16C433.59,841.87 436.39,841.06 438.95,840.32C441.50,839.58 444.06,838.43 446.61,837.71C449.16,837.00 451.21,836.36 454.27,836.03C457.33,835.69 461.68,835.77 464.99,835.72C468.31,835.67 473.35,835.75 474.19,835.72C475.02,835.69 468.31,835.27 470.00,835.53C471.69,835.78 479.53,836.60 484.30,837.24C489.07,837.89 493.83,838.67 498.60,839.39C503.37,840.10 508.61,840.98 512.90,841.53C517.19,842.08 521.48,842.55 524.34,842.68C527.20,842.80 527.92,842.94 530.06,842.28C532.21,841.62 534.83,840.02 537.21,838.71C539.59,837.40 541.98,835.85 544.36,834.42C546.74,832.99 549.13,831.32 551.51,830.13C553.90,828.94 556.04,827.86 558.66,827.27C561.28,826.67 565.35,826.74 567.24,826.55C569.13,826.37 567.50,826.33 570.00,826.16C572.50,826.00 578.17,826.06 582.26,825.55C586.34,825.04 590.43,824.12 594.51,823.10C598.60,822.08 602.69,820.55 606.77,819.42C610.86,818.30 614.94,817.14 619.03,816.36C623.12,815.58 627.20,815.03 631.29,814.77C635.37,814.50 639.87,814.77 643.54,814.77C647.22,814.77 651.72,814.77 653.35,814.77" stroke="#f0f" stroke-width="1.45" fill="none"/>
<path d="M298.00,906.03C302.09,905.76 317.41,904.78 322.51,904.43C327.62,904.09 324.71,904.45 328.64,903.94C332.57,903.44 341.87,901.99 346.10,901.40C350.33,900.81 351.32,900.80 354.00,900.40C356.68,900.00 359.50,899.63 362.20,899.00C364.90,898.37 367.53,897.95 370.20,896.60C372.87,895.25 375.78,893.72 378.20,890.90C380.62,888.08 382.82,883.18 384.70,879.70C386.58,876.22 387.90,872.95 389.50,870.00C391.10,867.05 392.43,864.27 394.30,862.00C396.17,859.73 398.55,857.87 400.70,856.40C402.85,854.93 405.05,854.02 407.20,853.20C409.35,852.38 411.12,851.94 413.60,851.50C416.08,851.06 419.15,850.99 422.09,850.58C425.04,850.17 428.48,849.68 431.29,849.04C434.10,848.41 436.39,847.89 438.95,846.75C441.50,845.60 443.80,843.43 446.61,842.15C449.42,840.87 452.74,839.85 455.80,839.08C458.87,838.32 461.93,837.94 464.99,837.55C468.06,837.17 473.35,837.03 474.19,836.79C475.02,836.55 468.31,835.94 470.00,836.11C471.69,836.29 479.53,837.18 484.30,837.83C489.07,838.47 493.83,839.26 498.60,839.97C503.37,840.69 508.61,841.57 512.90,842.12C517.19,842.67 521.48,843.14 524.34,843.26C527.20,843.38 527.92,843.50 530.06,842.83C532.21,842.17 534.83,840.57 537.21,839.26C539.59,837.95 541.98,836.40 544.36,834.97C546.74,833.54 549.13,831.87 551.51,830.68C553.90,829.49 556.04,828.41 558.66,827.82C561.28,827.22 565.35,827.29 567.24,827.10C569.13,826.92 567.50,826.88 570.00,826.71C572.50,826.55 578.17,826.61 582.26,826.10C586.34,825.59 590.43,824.67 594.51,823.65C598.60,822.63 602.69,821.10 606.77,819.97C610.86,818.85 614.94,817.69 619.03,816.91C623.12,816.13 627.20,815.58 631.29,815.32C635.37,815.05 639.87,815.32 643.54,815.32C647.22,815.32 651.72,815.32 653.35,815.32" stroke="#00f" stroke-width="1.45" fill="none"/>
<path d="M298.00,905.66C302.09,905.41 315.36,904.84 322.51,904.19C329.66,903.53 335.79,902.55 340.90,901.74C346.01,900.92 349.69,900.41 353.16,899.28C356.63,898.16 359.29,896.83 361.74,894.99C364.19,893.16 366.23,891.01 367.87,888.25C369.50,885.50 370.52,882.33 371.54,878.45C372.57,874.57 373.28,869.46 374.00,864.96C374.71,860.47 375.26,856.18 375.83,851.48C376.41,846.78 376.96,841.27 377.43,836.77C377.90,832.28 378.25,828.60 378.65,824.51C379.06,820.43 379.53,815.12 379.88,812.26C380.23,809.40 380.45,808.17 380.74,807.35C381.02,806.54 381.25,806.13 381.60,807.35C381.94,808.58 382.35,811.24 382.82,814.71C383.29,818.18 383.88,823.70 384.41,828.19C384.95,832.69 385.40,838.00 386.01,841.68C386.62,845.35 387.34,848.21 388.09,850.26C388.85,852.30 389.62,853.32 390.54,853.93C391.46,854.55 392.44,854.03 393.61,853.93C394.78,853.83 395.64,853.69 397.58,853.34C399.52,852.99 402.69,852.19 405.24,851.81C407.79,851.42 410.09,851.30 412.90,851.04C415.71,850.79 419.03,850.66 422.09,850.28C425.16,849.89 428.48,849.38 431.29,848.74C434.10,848.11 436.39,847.59 438.95,846.45C441.50,845.30 443.80,843.13 446.61,841.85C449.42,840.57 452.74,839.55 455.80,838.78C458.87,838.02 461.93,837.64 464.99,837.25C468.06,836.87 473.35,836.73 474.19,836.49C475.02,836.25 468.31,835.64 470.00,835.81C471.69,835.99 479.53,836.88 484.30,837.53C489.07,838.17 493.83,838.96 498.60,839.67C503.37,840.39 508.61,841.27 512.90,841.82C517.19,842.37 521.48,842.84 524.34,842.96C527.20,843.08 527.92,843.20 530.06,842.53C532.21,841.87 534.83,840.27 537.21,838.96C539.59,837.65 541.98,836.10 544.36,834.67C546.74,833.24 549.13,831.57 551.51,830.38C553.90,829.19 556.04,828.11 558.66,827.52C561.28,826.92 565.35,826.99 567.24,826.80C569.13,826.62 567.50,826.58 570.00,826.41C572.50,826.25 578.17,826.31 582.26,825.80C586.34,825.29 590.43,824.37 594.51,823.35C598.60,822.33 602.69,820.80 606.77,819.67C610.86,818.55 614.94,817.39 619.03,816.61C623.12,815.83 627.20,815.28 631.29,815.02C635.37,814.75 639.87,815.02 643.54,815.02C647.22,815.02 651.72,815.02 653.35,815.02" stroke="#0ff" stroke-width="1.45" fill="none"/>
<text x="365.0" y="681.7" font-size="11" text-anchor="start" font-weight="normal" >2p3/2</text>
<text x="407.1" y="733.5" font-size="11" text-anchor="start" font-weight="normal" >78.8%</text>
<text x="331.9" y="801.8" font-size="11" text-anchor="start" font-weight="normal" >21.2%</text>
<text x="520.8" y="760.0" font-size="11" text-anchor="start" font-weight="normal" >2p1/2</text>
<text x="415.5" y="748.4" font-size="11">Ni<tspan font-size="6.5" dy="-4.5">3+</tspan></text>
<text x="339.7" y="820.6" font-size="11">Ni<tspan font-size="6.5" dy="-4.5">2+</tspan></text>
<path d="M416.0,753.0L395.7,776.4" stroke="#333" stroke-width="0.8" fill="none"/>
<path d="M391.4,781.3L393.7,774.7L394.7,777.5L397.6,778.1Z" fill="#000"/>
<path d="M354.9,822.4L375.4,843.4" stroke="#333" stroke-width="0.8" fill="none"/>
<path d="M380.0,848.0L373.6,845.2L376.5,844.4L377.3,841.5Z" fill="#000"/>
</svg>
</body></html>
